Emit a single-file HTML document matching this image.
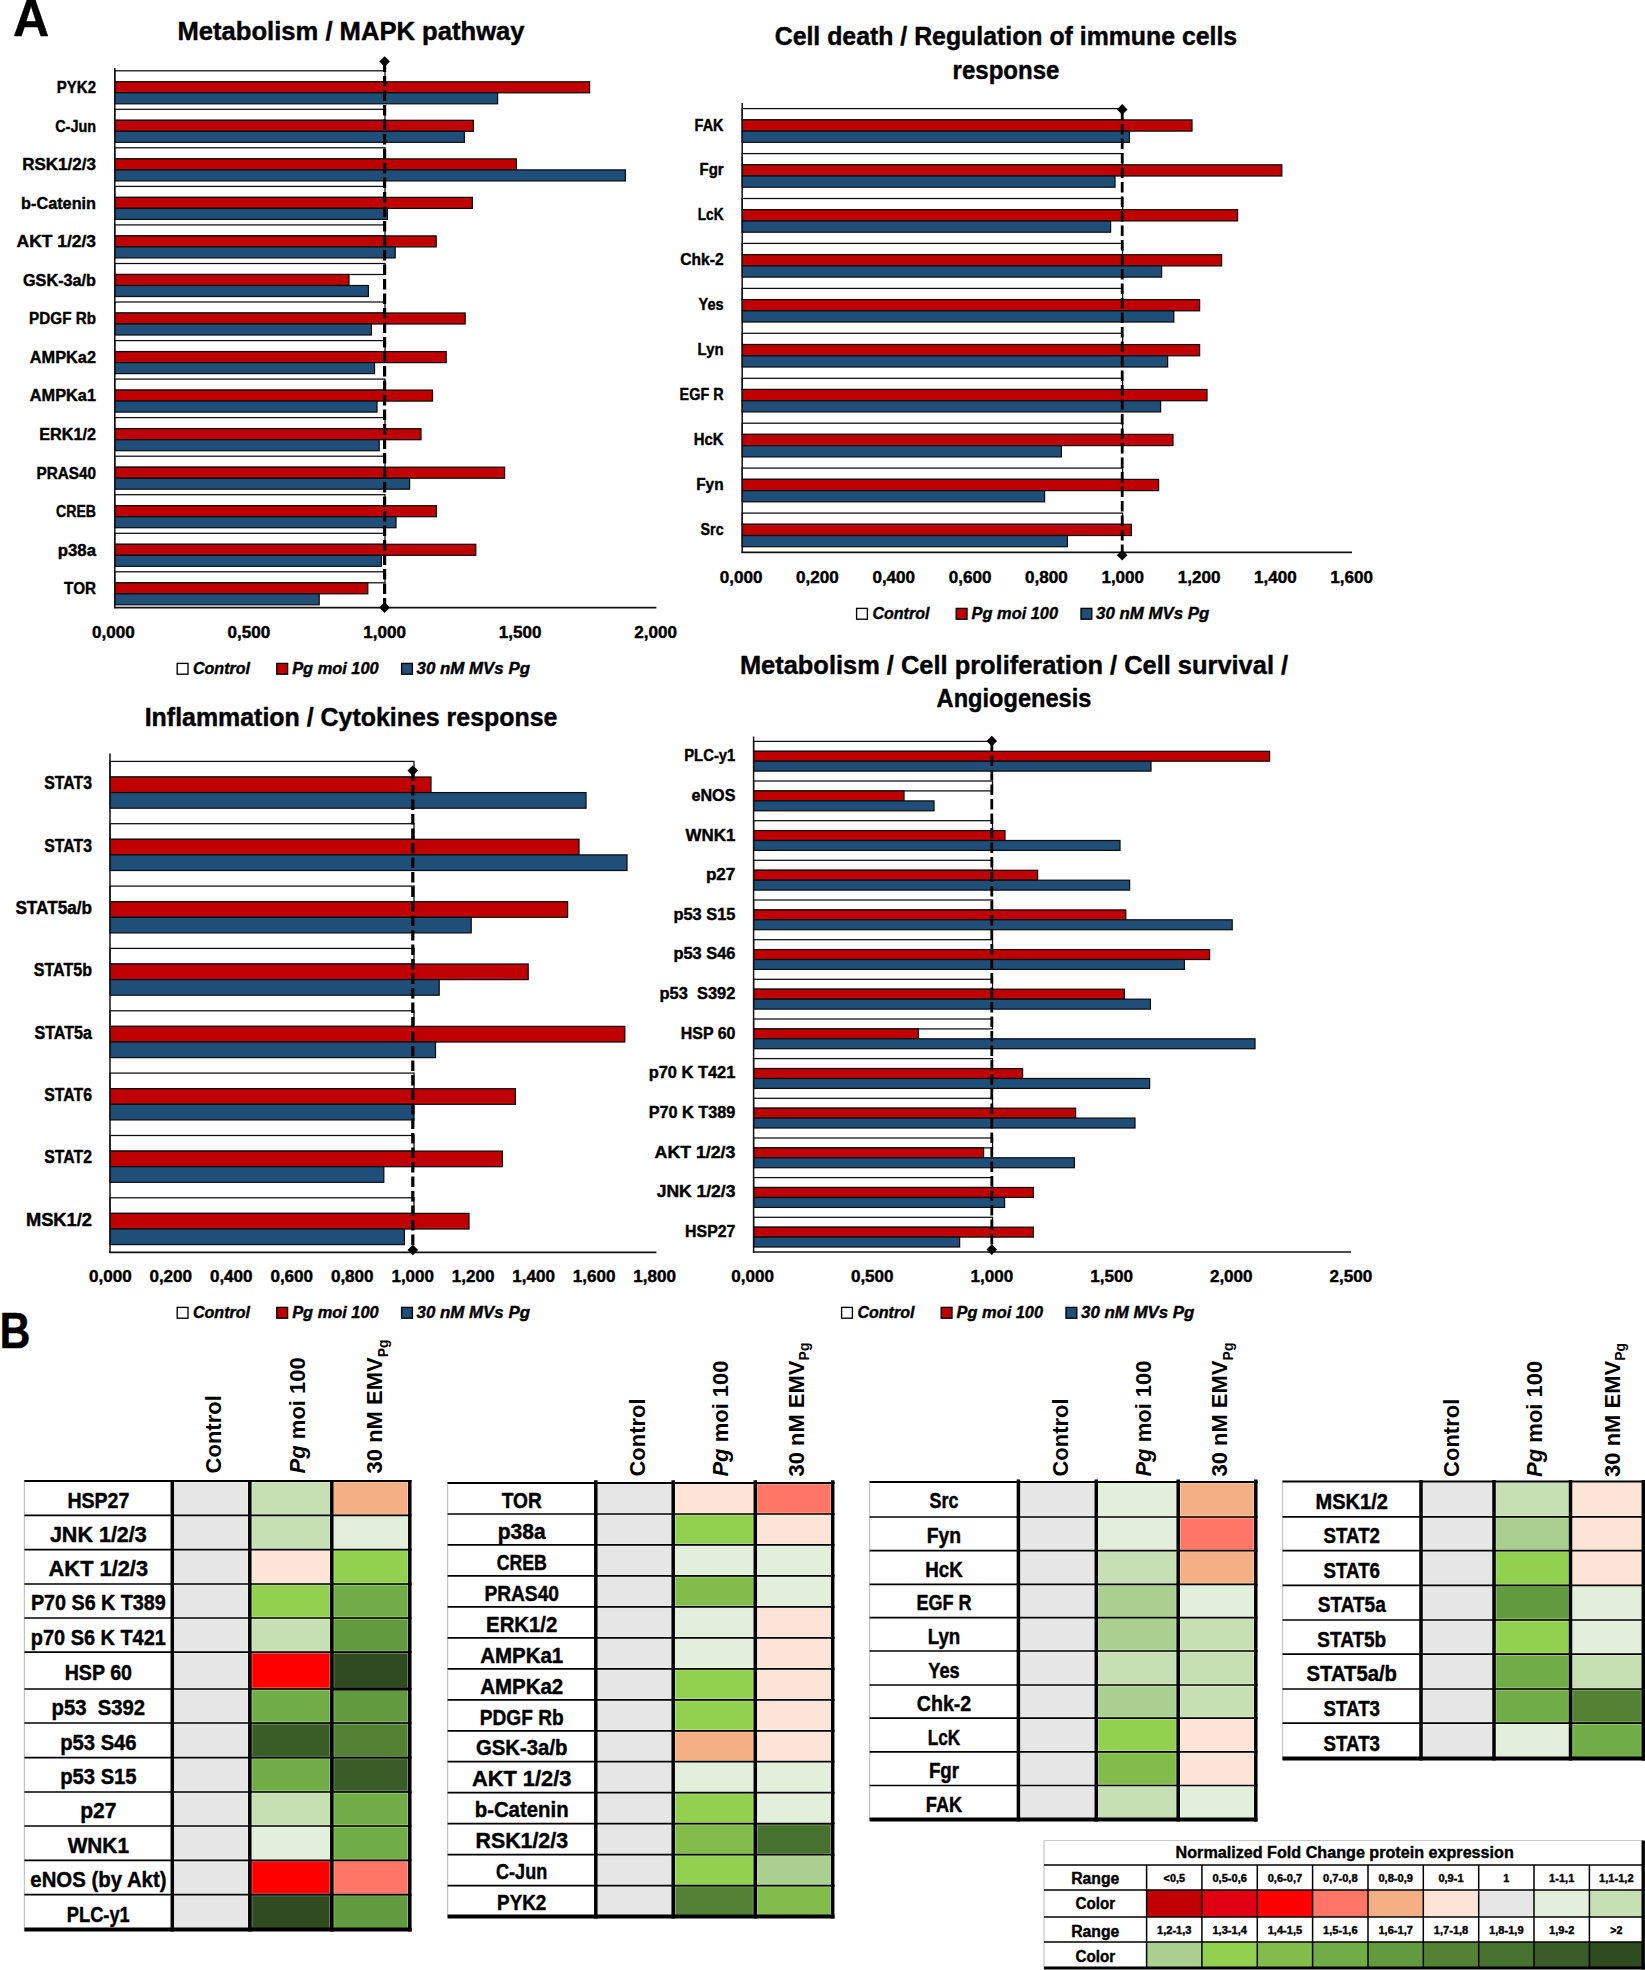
<!DOCTYPE html>
<html lang="en"><head><meta charset="utf-8"><title>Figure</title>
<style>
html,body{margin:0;padding:0;background:#fff}
body{width:1645px;height:1970px;overflow:hidden}
svg{display:block}
svg text{font-family:"Liberation Sans",sans-serif;font-weight:700;fill:#000}
svg text.c{stroke:#000;stroke-width:0.42px;stroke-linejoin:round}
</style></head>
<body>
<svg width="1645" height="1970" viewBox="0 0 1645 1970">
<rect x="0" y="0" width="1645" height="1970" fill="#fff"/>
<g>
<rect x="114.8" y="70.8" width="270.2" height="11.0" fill="#fff" stroke="#0d0d0d" stroke-width="1.25"/>
<rect x="114.8" y="81.8" width="474.8" height="11.0" fill="#C00000" stroke="#0d0d0d" stroke-width="1.25"/>
<rect x="114.8" y="92.8" width="382.8" height="11.0" fill="#1F4E79" stroke="#0d0d0d" stroke-width="1.25"/>
<text class="c" x="56.8" y="93.1" font-size="17.08" textLength="39.2" lengthAdjust="spacingAndGlyphs" xml:space="preserve">PYK2</text>
<rect x="114.8" y="109.3" width="270.2" height="11.0" fill="#fff" stroke="#0d0d0d" stroke-width="1.25"/>
<rect x="114.8" y="120.3" width="358.6" height="11.0" fill="#C00000" stroke="#0d0d0d" stroke-width="1.25"/>
<rect x="114.8" y="131.3" width="349.6" height="11.0" fill="#1F4E79" stroke="#0d0d0d" stroke-width="1.25"/>
<text class="c" x="55.2" y="131.6" font-size="17.08" textLength="40.8" lengthAdjust="spacingAndGlyphs" xml:space="preserve">C-Jun</text>
<rect x="114.8" y="147.8" width="270.2" height="11.0" fill="#fff" stroke="#0d0d0d" stroke-width="1.25"/>
<rect x="114.8" y="158.9" width="401.6" height="11.0" fill="#C00000" stroke="#0d0d0d" stroke-width="1.25"/>
<rect x="114.8" y="169.9" width="510.6" height="11.0" fill="#1F4E79" stroke="#0d0d0d" stroke-width="1.25"/>
<text class="c" x="22.2" y="170.2" font-size="17.08" textLength="73.8" lengthAdjust="spacingAndGlyphs" xml:space="preserve">RSK1/2/3</text>
<rect x="114.8" y="186.4" width="270.2" height="11.0" fill="#fff" stroke="#0d0d0d" stroke-width="1.25"/>
<rect x="114.8" y="197.4" width="357.6" height="11.0" fill="#C00000" stroke="#0d0d0d" stroke-width="1.25"/>
<rect x="114.8" y="208.4" width="272.6" height="11.0" fill="#1F4E79" stroke="#0d0d0d" stroke-width="1.25"/>
<text class="c" x="21.1" y="208.7" font-size="17.08" textLength="74.9" lengthAdjust="spacingAndGlyphs" xml:space="preserve">b-Catenin</text>
<rect x="114.8" y="224.9" width="270.2" height="11.0" fill="#fff" stroke="#0d0d0d" stroke-width="1.25"/>
<rect x="114.8" y="235.9" width="321.4" height="11.0" fill="#C00000" stroke="#0d0d0d" stroke-width="1.25"/>
<rect x="114.8" y="246.9" width="280.4" height="11.0" fill="#1F4E79" stroke="#0d0d0d" stroke-width="1.25"/>
<text class="c" x="16.6" y="247.2" font-size="17.08" textLength="79.4" lengthAdjust="spacingAndGlyphs" xml:space="preserve">AKT 1/2/3</text>
<rect x="114.8" y="263.5" width="270.2" height="11.0" fill="#fff" stroke="#0d0d0d" stroke-width="1.25"/>
<rect x="114.8" y="274.5" width="234.2" height="11.0" fill="#C00000" stroke="#0d0d0d" stroke-width="1.25"/>
<rect x="114.8" y="285.5" width="253.6" height="11.0" fill="#1F4E79" stroke="#0d0d0d" stroke-width="1.25"/>
<text class="c" x="23.0" y="285.8" font-size="17.08" textLength="73.0" lengthAdjust="spacingAndGlyphs" xml:space="preserve">GSK-3a/b</text>
<rect x="114.8" y="302.0" width="270.2" height="11.0" fill="#fff" stroke="#0d0d0d" stroke-width="1.25"/>
<rect x="114.8" y="313.0" width="350.4" height="11.0" fill="#C00000" stroke="#0d0d0d" stroke-width="1.25"/>
<rect x="114.8" y="324.0" width="256.6" height="11.0" fill="#1F4E79" stroke="#0d0d0d" stroke-width="1.25"/>
<text class="c" x="29.1" y="324.3" font-size="17.08" textLength="66.9" lengthAdjust="spacingAndGlyphs" xml:space="preserve">PDGF Rb</text>
<rect x="114.8" y="340.6" width="270.2" height="11.0" fill="#fff" stroke="#0d0d0d" stroke-width="1.25"/>
<rect x="114.8" y="351.6" width="331.4" height="11.0" fill="#C00000" stroke="#0d0d0d" stroke-width="1.25"/>
<rect x="114.8" y="362.6" width="259.7" height="11.0" fill="#1F4E79" stroke="#0d0d0d" stroke-width="1.25"/>
<text class="c" x="29.8" y="362.9" font-size="17.08" textLength="66.2" lengthAdjust="spacingAndGlyphs" xml:space="preserve">AMPKa2</text>
<rect x="114.8" y="379.1" width="270.2" height="11.0" fill="#fff" stroke="#0d0d0d" stroke-width="1.25"/>
<rect x="114.8" y="390.1" width="317.7" height="11.0" fill="#C00000" stroke="#0d0d0d" stroke-width="1.25"/>
<rect x="114.8" y="401.1" width="262.2" height="11.0" fill="#1F4E79" stroke="#0d0d0d" stroke-width="1.25"/>
<text class="c" x="29.8" y="401.4" font-size="17.08" textLength="66.2" lengthAdjust="spacingAndGlyphs" xml:space="preserve">AMPKa1</text>
<rect x="114.8" y="417.6" width="270.2" height="11.0" fill="#fff" stroke="#0d0d0d" stroke-width="1.25"/>
<rect x="114.8" y="428.7" width="306.2" height="11.0" fill="#C00000" stroke="#0d0d0d" stroke-width="1.25"/>
<rect x="114.8" y="439.7" width="264.4" height="11.0" fill="#1F4E79" stroke="#0d0d0d" stroke-width="1.25"/>
<text class="c" x="39.2" y="440.0" font-size="17.08" textLength="56.8" lengthAdjust="spacingAndGlyphs" xml:space="preserve">ERK1/2</text>
<rect x="114.8" y="456.2" width="270.2" height="11.0" fill="#fff" stroke="#0d0d0d" stroke-width="1.25"/>
<rect x="114.8" y="467.2" width="389.8" height="11.0" fill="#C00000" stroke="#0d0d0d" stroke-width="1.25"/>
<rect x="114.8" y="478.2" width="294.8" height="11.0" fill="#1F4E79" stroke="#0d0d0d" stroke-width="1.25"/>
<text class="c" x="36.5" y="478.5" font-size="17.08" textLength="59.5" lengthAdjust="spacingAndGlyphs" xml:space="preserve">PRAS40</text>
<rect x="114.8" y="494.7" width="270.2" height="11.0" fill="#fff" stroke="#0d0d0d" stroke-width="1.25"/>
<rect x="114.8" y="505.7" width="321.6" height="11.0" fill="#C00000" stroke="#0d0d0d" stroke-width="1.25"/>
<rect x="114.8" y="516.7" width="281.2" height="11.0" fill="#1F4E79" stroke="#0d0d0d" stroke-width="1.25"/>
<text class="c" x="56.0" y="517.0" font-size="17.08" textLength="40.0" lengthAdjust="spacingAndGlyphs" xml:space="preserve">CREB</text>
<rect x="114.8" y="533.3" width="270.2" height="11.0" fill="#fff" stroke="#0d0d0d" stroke-width="1.25"/>
<rect x="114.8" y="544.3" width="361.0" height="11.0" fill="#C00000" stroke="#0d0d0d" stroke-width="1.25"/>
<rect x="114.8" y="555.3" width="266.6" height="11.0" fill="#1F4E79" stroke="#0d0d0d" stroke-width="1.25"/>
<text class="c" x="57.8" y="555.6" font-size="17.08" textLength="38.2" lengthAdjust="spacingAndGlyphs" xml:space="preserve">p38a</text>
<rect x="114.8" y="571.8" width="270.2" height="11.0" fill="#fff" stroke="#0d0d0d" stroke-width="1.25"/>
<rect x="114.8" y="582.8" width="253.0" height="11.0" fill="#C00000" stroke="#0d0d0d" stroke-width="1.25"/>
<rect x="114.8" y="593.8" width="204.4" height="11.0" fill="#1F4E79" stroke="#0d0d0d" stroke-width="1.25"/>
<text class="c" x="64.1" y="594.1" font-size="17.08" textLength="31.9" lengthAdjust="spacingAndGlyphs" xml:space="preserve">TOR</text>
</g>
<line x1="114.8" y1="68.0" x2="114.8" y2="608.2" stroke="#111" stroke-width="1.5"/>
<line x1="114.1" y1="607.6" x2="656.4" y2="607.6" stroke="#111" stroke-width="1.6"/>
<text class="c" x="92.1" y="638.0" font-size="17.08" textLength="42.7" lengthAdjust="spacingAndGlyphs" xml:space="preserve">0,000</text>
<text class="c" x="227.6" y="638.0" font-size="17.08" textLength="42.7" lengthAdjust="spacingAndGlyphs" xml:space="preserve">0,500</text>
<text class="c" x="363.2" y="638.0" font-size="17.08" textLength="42.7" lengthAdjust="spacingAndGlyphs" xml:space="preserve">1,000</text>
<text class="c" x="498.7" y="638.0" font-size="17.08" textLength="42.7" lengthAdjust="spacingAndGlyphs" xml:space="preserve">1,500</text>
<text class="c" x="634.3" y="638.0" font-size="17.08" textLength="42.7" lengthAdjust="spacingAndGlyphs" xml:space="preserve">2,000</text>
<line x1="384.6" y1="61.6" x2="384.6" y2="607.6" stroke="#000" stroke-width="3.2" stroke-dasharray="10.5 4"/>
<path d="M384.6 56.3L389.9 61.6L384.6 66.9L379.3 61.6Z" fill="#000"/>
<path d="M384.6 602.3L389.9 607.6L384.6 612.9L379.3 607.6Z" fill="#000"/>
<text class="c" x="177.4" y="40.0" font-size="25.99" textLength="347.2" lengthAdjust="spacingAndGlyphs" xml:space="preserve">Metabolism / MAPK pathway</text>
<rect x="177.2" y="663.4" width="10.8" height="10.8" fill="#fff" stroke="#000" stroke-width="1.35"/>
<text class="c" x="193.0" y="674.0" font-size="17.39" font-style="italic" textLength="57.0" lengthAdjust="spacingAndGlyphs" xml:space="preserve">Control</text>
<rect x="276.8" y="663.4" width="10.8" height="10.8" fill="#C00000" stroke="#000" stroke-width="1.35"/>
<text class="c" x="292.2" y="674.0" font-size="17.39" font-style="italic" textLength="86.5" lengthAdjust="spacingAndGlyphs" xml:space="preserve">Pg moi 100</text>
<rect x="401.6" y="663.4" width="10.8" height="10.8" fill="#1F4E79" stroke="#000" stroke-width="1.35"/>
<text class="c" x="416.6" y="674.0" font-size="17.39" font-style="italic" textLength="113.4" lengthAdjust="spacingAndGlyphs" xml:space="preserve">30 nM MVs Pg</text>
<g>
<rect x="742.2" y="108.6" width="380.4" height="11.2" fill="#fff" stroke="#0d0d0d" stroke-width="1.25"/>
<rect x="742.2" y="119.9" width="449.8" height="11.2" fill="#C00000" stroke="#0d0d0d" stroke-width="1.25"/>
<rect x="742.2" y="131.1" width="387.2" height="11.2" fill="#1F4E79" stroke="#0d0d0d" stroke-width="1.25"/>
<text class="c" x="694.6" y="130.5" font-size="17.08" textLength="29.0" lengthAdjust="spacingAndGlyphs" xml:space="preserve">FAK</text>
<rect x="742.2" y="153.6" width="380.4" height="11.2" fill="#fff" stroke="#0d0d0d" stroke-width="1.25"/>
<rect x="742.2" y="164.8" width="539.6" height="11.2" fill="#C00000" stroke="#0d0d0d" stroke-width="1.25"/>
<rect x="742.2" y="176.0" width="372.8" height="11.2" fill="#1F4E79" stroke="#0d0d0d" stroke-width="1.25"/>
<text class="c" x="699.5" y="175.4" font-size="17.08" textLength="24.1" lengthAdjust="spacingAndGlyphs" xml:space="preserve">Fgr</text>
<rect x="742.2" y="198.5" width="380.4" height="11.2" fill="#fff" stroke="#0d0d0d" stroke-width="1.25"/>
<rect x="742.2" y="209.7" width="495.4" height="11.2" fill="#C00000" stroke="#0d0d0d" stroke-width="1.25"/>
<rect x="742.2" y="221.0" width="368.4" height="11.2" fill="#1F4E79" stroke="#0d0d0d" stroke-width="1.25"/>
<text class="c" x="697.7" y="220.3" font-size="17.08" textLength="25.9" lengthAdjust="spacingAndGlyphs" xml:space="preserve">LcK</text>
<rect x="742.2" y="243.4" width="380.4" height="11.2" fill="#fff" stroke="#0d0d0d" stroke-width="1.25"/>
<rect x="742.2" y="254.7" width="479.4" height="11.2" fill="#C00000" stroke="#0d0d0d" stroke-width="1.25"/>
<rect x="742.2" y="265.9" width="419.4" height="11.2" fill="#1F4E79" stroke="#0d0d0d" stroke-width="1.25"/>
<text class="c" x="680.2" y="265.3" font-size="17.08" textLength="43.4" lengthAdjust="spacingAndGlyphs" xml:space="preserve">Chk-2</text>
<rect x="742.2" y="288.4" width="380.4" height="11.2" fill="#fff" stroke="#0d0d0d" stroke-width="1.25"/>
<rect x="742.2" y="299.6" width="457.4" height="11.2" fill="#C00000" stroke="#0d0d0d" stroke-width="1.25"/>
<rect x="742.2" y="310.8" width="431.6" height="11.2" fill="#1F4E79" stroke="#0d0d0d" stroke-width="1.25"/>
<text class="c" x="698.5" y="310.2" font-size="17.08" textLength="25.1" lengthAdjust="spacingAndGlyphs" xml:space="preserve">Yes</text>
<rect x="742.2" y="333.3" width="380.4" height="11.2" fill="#fff" stroke="#0d0d0d" stroke-width="1.25"/>
<rect x="742.2" y="344.6" width="457.4" height="11.2" fill="#C00000" stroke="#0d0d0d" stroke-width="1.25"/>
<rect x="742.2" y="355.8" width="425.4" height="11.2" fill="#1F4E79" stroke="#0d0d0d" stroke-width="1.25"/>
<text class="c" x="697.6" y="355.2" font-size="17.08" textLength="26.0" lengthAdjust="spacingAndGlyphs" xml:space="preserve">Lyn</text>
<rect x="742.2" y="378.3" width="380.4" height="11.2" fill="#fff" stroke="#0d0d0d" stroke-width="1.25"/>
<rect x="742.2" y="389.5" width="464.8" height="11.2" fill="#C00000" stroke="#0d0d0d" stroke-width="1.25"/>
<rect x="742.2" y="400.7" width="418.4" height="11.2" fill="#1F4E79" stroke="#0d0d0d" stroke-width="1.25"/>
<text class="c" x="679.6" y="400.1" font-size="17.08" textLength="44.0" lengthAdjust="spacingAndGlyphs" xml:space="preserve">EGF R</text>
<rect x="742.2" y="423.2" width="380.4" height="11.2" fill="#fff" stroke="#0d0d0d" stroke-width="1.25"/>
<rect x="742.2" y="434.4" width="430.8" height="11.2" fill="#C00000" stroke="#0d0d0d" stroke-width="1.25"/>
<rect x="742.2" y="445.7" width="319.2" height="11.2" fill="#1F4E79" stroke="#0d0d0d" stroke-width="1.25"/>
<text class="c" x="693.8" y="445.0" font-size="17.08" textLength="29.8" lengthAdjust="spacingAndGlyphs" xml:space="preserve">HcK</text>
<rect x="742.2" y="468.1" width="380.4" height="11.2" fill="#fff" stroke="#0d0d0d" stroke-width="1.25"/>
<rect x="742.2" y="479.4" width="416.4" height="11.2" fill="#C00000" stroke="#0d0d0d" stroke-width="1.25"/>
<rect x="742.2" y="490.6" width="302.4" height="11.2" fill="#1F4E79" stroke="#0d0d0d" stroke-width="1.25"/>
<text class="c" x="696.2" y="490.0" font-size="17.08" textLength="27.4" lengthAdjust="spacingAndGlyphs" xml:space="preserve">Fyn</text>
<rect x="742.2" y="513.1" width="380.4" height="11.2" fill="#fff" stroke="#0d0d0d" stroke-width="1.25"/>
<rect x="742.2" y="524.3" width="389.2" height="11.2" fill="#C00000" stroke="#0d0d0d" stroke-width="1.25"/>
<rect x="742.2" y="535.5" width="325.2" height="11.2" fill="#1F4E79" stroke="#0d0d0d" stroke-width="1.25"/>
<text class="c" x="700.6" y="534.9" font-size="17.08" textLength="23.0" lengthAdjust="spacingAndGlyphs" xml:space="preserve">Src</text>
</g>
<line x1="742.2" y1="103.0" x2="742.2" y2="553.0" stroke="#111" stroke-width="1.5"/>
<line x1="741.5" y1="552.4" x2="1352.0" y2="552.4" stroke="#111" stroke-width="1.6"/>
<text class="c" x="719.8" y="583.0" font-size="17.08" textLength="42.7" lengthAdjust="spacingAndGlyphs" xml:space="preserve">0,000</text>
<text class="c" x="796.1" y="583.0" font-size="17.08" textLength="42.7" lengthAdjust="spacingAndGlyphs" xml:space="preserve">0,200</text>
<text class="c" x="872.4" y="583.0" font-size="17.08" textLength="42.7" lengthAdjust="spacingAndGlyphs" xml:space="preserve">0,400</text>
<text class="c" x="948.7" y="583.0" font-size="17.08" textLength="42.7" lengthAdjust="spacingAndGlyphs" xml:space="preserve">0,600</text>
<text class="c" x="1025.0" y="583.0" font-size="17.08" textLength="42.7" lengthAdjust="spacingAndGlyphs" xml:space="preserve">0,800</text>
<text class="c" x="1101.4" y="583.0" font-size="17.08" textLength="42.7" lengthAdjust="spacingAndGlyphs" xml:space="preserve">1,000</text>
<text class="c" x="1177.7" y="583.0" font-size="17.08" textLength="42.7" lengthAdjust="spacingAndGlyphs" xml:space="preserve">1,200</text>
<text class="c" x="1254.0" y="583.0" font-size="17.08" textLength="42.7" lengthAdjust="spacingAndGlyphs" xml:space="preserve">1,400</text>
<text class="c" x="1330.3" y="583.0" font-size="17.08" textLength="42.7" lengthAdjust="spacingAndGlyphs" xml:space="preserve">1,600</text>
<line x1="1122.2" y1="109.4" x2="1122.2" y2="555.2" stroke="#000" stroke-width="2.8" stroke-dasharray="10.5 4"/>
<path d="M1122.2 104.1L1127.5 109.4L1122.2 114.7L1116.9 109.4Z" fill="#000"/>
<path d="M1122.2 549.9L1127.5 555.2L1122.2 560.5L1116.9 555.2Z" fill="#000"/>
<text class="c" x="774.7" y="45.4" font-size="25.99" textLength="462.5" lengthAdjust="spacingAndGlyphs" xml:space="preserve">Cell death / Regulation of immune cells</text>
<text class="c" x="952.6" y="79.0" font-size="25.99" textLength="106.8" lengthAdjust="spacingAndGlyphs" xml:space="preserve">response</text>
<rect x="856.6" y="608.4" width="10.8" height="10.8" fill="#fff" stroke="#000" stroke-width="1.35"/>
<text class="c" x="872.4" y="619.0" font-size="17.39" font-style="italic" textLength="57.0" lengthAdjust="spacingAndGlyphs" xml:space="preserve">Control</text>
<rect x="956.2" y="608.4" width="10.8" height="10.8" fill="#C00000" stroke="#000" stroke-width="1.35"/>
<text class="c" x="971.6" y="619.0" font-size="17.39" font-style="italic" textLength="86.5" lengthAdjust="spacingAndGlyphs" xml:space="preserve">Pg moi 100</text>
<rect x="1081.0" y="608.4" width="10.8" height="10.8" fill="#1F4E79" stroke="#000" stroke-width="1.35"/>
<text class="c" x="1096.0" y="619.0" font-size="17.39" font-style="italic" textLength="113.4" lengthAdjust="spacingAndGlyphs" xml:space="preserve">30 nM MVs Pg</text>
<g>
<rect x="110.0" y="761.4" width="304.0" height="15.6" fill="#fff" stroke="#0d0d0d" stroke-width="1.25"/>
<rect x="110.0" y="777.0" width="321.0" height="15.6" fill="#C00000" stroke="#0d0d0d" stroke-width="1.25"/>
<rect x="110.0" y="792.6" width="476.0" height="15.6" fill="#1F4E79" stroke="#0d0d0d" stroke-width="1.25"/>
<text class="c" x="44.3" y="789.3" font-size="18.12" textLength="47.7" lengthAdjust="spacingAndGlyphs" xml:space="preserve">STAT3</text>
<rect x="110.0" y="823.7" width="304.0" height="15.6" fill="#fff" stroke="#0d0d0d" stroke-width="1.25"/>
<rect x="110.0" y="839.3" width="469.0" height="15.6" fill="#C00000" stroke="#0d0d0d" stroke-width="1.25"/>
<rect x="110.0" y="854.9" width="517.0" height="15.6" fill="#1F4E79" stroke="#0d0d0d" stroke-width="1.25"/>
<text class="c" x="44.3" y="851.6" font-size="18.12" textLength="47.7" lengthAdjust="spacingAndGlyphs" xml:space="preserve">STAT3</text>
<rect x="110.0" y="886.1" width="304.0" height="15.6" fill="#fff" stroke="#0d0d0d" stroke-width="1.25"/>
<rect x="110.0" y="901.7" width="457.6" height="15.6" fill="#C00000" stroke="#0d0d0d" stroke-width="1.25"/>
<rect x="110.0" y="917.3" width="361.2" height="15.6" fill="#1F4E79" stroke="#0d0d0d" stroke-width="1.25"/>
<text class="c" x="15.4" y="914.0" font-size="18.12" textLength="76.6" lengthAdjust="spacingAndGlyphs" xml:space="preserve">STAT5a/b</text>
<rect x="110.0" y="948.4" width="304.0" height="15.6" fill="#fff" stroke="#0d0d0d" stroke-width="1.25"/>
<rect x="110.0" y="964.0" width="418.2" height="15.6" fill="#C00000" stroke="#0d0d0d" stroke-width="1.25"/>
<rect x="110.0" y="979.6" width="329.2" height="15.6" fill="#1F4E79" stroke="#0d0d0d" stroke-width="1.25"/>
<text class="c" x="33.7" y="976.3" font-size="18.12" textLength="58.3" lengthAdjust="spacingAndGlyphs" xml:space="preserve">STAT5b</text>
<rect x="110.0" y="1010.8" width="304.0" height="15.6" fill="#fff" stroke="#0d0d0d" stroke-width="1.25"/>
<rect x="110.0" y="1026.4" width="514.8" height="15.6" fill="#C00000" stroke="#0d0d0d" stroke-width="1.25"/>
<rect x="110.0" y="1042.0" width="325.5" height="15.6" fill="#1F4E79" stroke="#0d0d0d" stroke-width="1.25"/>
<text class="c" x="34.5" y="1038.7" font-size="18.12" textLength="57.5" lengthAdjust="spacingAndGlyphs" xml:space="preserve">STAT5a</text>
<rect x="110.0" y="1073.1" width="304.0" height="15.6" fill="#fff" stroke="#0d0d0d" stroke-width="1.25"/>
<rect x="110.0" y="1088.7" width="405.4" height="15.6" fill="#C00000" stroke="#0d0d0d" stroke-width="1.25"/>
<rect x="110.0" y="1104.3" width="304.0" height="15.6" fill="#1F4E79" stroke="#0d0d0d" stroke-width="1.25"/>
<text class="c" x="44.3" y="1101.0" font-size="18.12" textLength="47.7" lengthAdjust="spacingAndGlyphs" xml:space="preserve">STAT6</text>
<rect x="110.0" y="1135.5" width="304.0" height="15.6" fill="#fff" stroke="#0d0d0d" stroke-width="1.25"/>
<rect x="110.0" y="1151.1" width="392.4" height="15.6" fill="#C00000" stroke="#0d0d0d" stroke-width="1.25"/>
<rect x="110.0" y="1166.7" width="273.8" height="15.6" fill="#1F4E79" stroke="#0d0d0d" stroke-width="1.25"/>
<text class="c" x="44.3" y="1163.4" font-size="18.12" textLength="47.7" lengthAdjust="spacingAndGlyphs" xml:space="preserve">STAT2</text>
<rect x="110.0" y="1197.8" width="304.0" height="15.6" fill="#fff" stroke="#0d0d0d" stroke-width="1.25"/>
<rect x="110.0" y="1213.4" width="359.0" height="15.6" fill="#C00000" stroke="#0d0d0d" stroke-width="1.25"/>
<rect x="110.0" y="1229.0" width="294.4" height="15.6" fill="#1F4E79" stroke="#0d0d0d" stroke-width="1.25"/>
<text class="c" x="25.9" y="1225.7" font-size="18.12" textLength="66.1" lengthAdjust="spacingAndGlyphs" xml:space="preserve">MSK1/2</text>
</g>
<line x1="110.0" y1="753.6" x2="110.0" y2="1253.0" stroke="#111" stroke-width="1.5"/>
<line x1="109.3" y1="1252.4" x2="656.4" y2="1252.4" stroke="#111" stroke-width="1.6"/>
<text class="c" x="89.0" y="1282.0" font-size="17.08" textLength="42.7" lengthAdjust="spacingAndGlyphs" xml:space="preserve">0,000</text>
<text class="c" x="149.4" y="1282.0" font-size="17.08" textLength="42.7" lengthAdjust="spacingAndGlyphs" xml:space="preserve">0,200</text>
<text class="c" x="209.9" y="1282.0" font-size="17.08" textLength="42.7" lengthAdjust="spacingAndGlyphs" xml:space="preserve">0,400</text>
<text class="c" x="270.4" y="1282.0" font-size="17.08" textLength="42.7" lengthAdjust="spacingAndGlyphs" xml:space="preserve">0,600</text>
<text class="c" x="330.9" y="1282.0" font-size="17.08" textLength="42.7" lengthAdjust="spacingAndGlyphs" xml:space="preserve">0,800</text>
<text class="c" x="391.4" y="1282.0" font-size="17.08" textLength="42.7" lengthAdjust="spacingAndGlyphs" xml:space="preserve">1,000</text>
<text class="c" x="451.8" y="1282.0" font-size="17.08" textLength="42.7" lengthAdjust="spacingAndGlyphs" xml:space="preserve">1,200</text>
<text class="c" x="512.3" y="1282.0" font-size="17.08" textLength="42.7" lengthAdjust="spacingAndGlyphs" xml:space="preserve">1,400</text>
<text class="c" x="572.8" y="1282.0" font-size="17.08" textLength="42.7" lengthAdjust="spacingAndGlyphs" xml:space="preserve">1,600</text>
<text class="c" x="633.3" y="1282.0" font-size="17.08" textLength="42.7" lengthAdjust="spacingAndGlyphs" xml:space="preserve">1,800</text>
<line x1="412.8" y1="770.6" x2="412.8" y2="1250.0" stroke="#000" stroke-width="3.2" stroke-dasharray="10.5 4"/>
<path d="M412.8 765.3L418.1 770.6L412.8 775.9L407.5 770.6Z" fill="#000"/>
<path d="M412.8 1244.7L418.1 1250.0L412.8 1255.3L407.5 1250.0Z" fill="#000"/>
<text class="c" x="144.7" y="725.6" font-size="25.99" textLength="412.7" lengthAdjust="spacingAndGlyphs" xml:space="preserve">Inflammation / Cytokines response</text>
<rect x="177.2" y="1307.4" width="10.8" height="10.8" fill="#fff" stroke="#000" stroke-width="1.35"/>
<text class="c" x="193.0" y="1318.0" font-size="17.39" font-style="italic" textLength="57.0" lengthAdjust="spacingAndGlyphs" xml:space="preserve">Control</text>
<rect x="276.8" y="1307.4" width="10.8" height="10.8" fill="#C00000" stroke="#000" stroke-width="1.35"/>
<text class="c" x="292.2" y="1318.0" font-size="17.39" font-style="italic" textLength="86.5" lengthAdjust="spacingAndGlyphs" xml:space="preserve">Pg moi 100</text>
<rect x="401.6" y="1307.4" width="10.8" height="10.8" fill="#1F4E79" stroke="#000" stroke-width="1.35"/>
<text class="c" x="416.6" y="1318.0" font-size="17.39" font-style="italic" textLength="113.4" lengthAdjust="spacingAndGlyphs" xml:space="preserve">30 nM MVs Pg</text>
<g>
<rect x="753.6" y="741.4" width="238.9" height="9.9" fill="#fff" stroke="#0d0d0d" stroke-width="1.25"/>
<rect x="753.6" y="751.3" width="516.0" height="9.9" fill="#C00000" stroke="#0d0d0d" stroke-width="1.25"/>
<rect x="753.6" y="761.2" width="397.4" height="9.9" fill="#1F4E79" stroke="#0d0d0d" stroke-width="1.25"/>
<text class="c" x="684.2" y="761.1" font-size="17.39" textLength="51.2" lengthAdjust="spacingAndGlyphs" xml:space="preserve">PLC-y1</text>
<rect x="753.6" y="781.0" width="238.9" height="9.9" fill="#fff" stroke="#0d0d0d" stroke-width="1.25"/>
<rect x="753.6" y="790.9" width="150.4" height="9.9" fill="#C00000" stroke="#0d0d0d" stroke-width="1.25"/>
<rect x="753.6" y="800.9" width="180.4" height="9.9" fill="#1F4E79" stroke="#0d0d0d" stroke-width="1.25"/>
<text class="c" x="691.5" y="800.8" font-size="17.39" textLength="43.9" lengthAdjust="spacingAndGlyphs" xml:space="preserve">eNOS</text>
<rect x="753.6" y="820.7" width="238.9" height="9.9" fill="#fff" stroke="#0d0d0d" stroke-width="1.25"/>
<rect x="753.6" y="830.6" width="251.4" height="9.9" fill="#C00000" stroke="#0d0d0d" stroke-width="1.25"/>
<rect x="753.6" y="840.5" width="366.4" height="9.9" fill="#1F4E79" stroke="#0d0d0d" stroke-width="1.25"/>
<text class="c" x="685.6" y="840.5" font-size="17.39" textLength="49.8" lengthAdjust="spacingAndGlyphs" xml:space="preserve">WNK1</text>
<rect x="753.6" y="860.3" width="238.9" height="9.9" fill="#fff" stroke="#0d0d0d" stroke-width="1.25"/>
<rect x="753.6" y="870.3" width="284.0" height="9.9" fill="#C00000" stroke="#0d0d0d" stroke-width="1.25"/>
<rect x="753.6" y="880.2" width="376.0" height="9.9" fill="#1F4E79" stroke="#0d0d0d" stroke-width="1.25"/>
<text class="c" x="705.9" y="880.1" font-size="17.39" textLength="29.5" lengthAdjust="spacingAndGlyphs" xml:space="preserve">p27</text>
<rect x="753.6" y="900.0" width="238.9" height="9.9" fill="#fff" stroke="#0d0d0d" stroke-width="1.25"/>
<rect x="753.6" y="909.9" width="372.2" height="9.9" fill="#C00000" stroke="#0d0d0d" stroke-width="1.25"/>
<rect x="753.6" y="919.8" width="478.6" height="9.9" fill="#1F4E79" stroke="#0d0d0d" stroke-width="1.25"/>
<text class="c" x="673.4" y="919.8" font-size="17.39" textLength="62.0" lengthAdjust="spacingAndGlyphs" xml:space="preserve">p53 S15</text>
<rect x="753.6" y="939.7" width="238.9" height="9.9" fill="#fff" stroke="#0d0d0d" stroke-width="1.25"/>
<rect x="753.6" y="949.6" width="456.0" height="9.9" fill="#C00000" stroke="#0d0d0d" stroke-width="1.25"/>
<rect x="753.6" y="959.5" width="430.8" height="9.9" fill="#1F4E79" stroke="#0d0d0d" stroke-width="1.25"/>
<text class="c" x="673.4" y="959.4" font-size="17.39" textLength="62.0" lengthAdjust="spacingAndGlyphs" xml:space="preserve">p53 S46</text>
<rect x="753.6" y="979.3" width="238.9" height="9.9" fill="#fff" stroke="#0d0d0d" stroke-width="1.25"/>
<rect x="753.6" y="989.2" width="370.8" height="9.9" fill="#C00000" stroke="#0d0d0d" stroke-width="1.25"/>
<rect x="753.6" y="999.2" width="396.8" height="9.9" fill="#1F4E79" stroke="#0d0d0d" stroke-width="1.25"/>
<text class="c" x="659.5" y="999.1" font-size="17.39" textLength="75.9" lengthAdjust="spacingAndGlyphs" xml:space="preserve">p53  S392</text>
<rect x="753.6" y="1019.0" width="238.9" height="9.9" fill="#fff" stroke="#0d0d0d" stroke-width="1.25"/>
<rect x="753.6" y="1028.9" width="164.8" height="9.9" fill="#C00000" stroke="#0d0d0d" stroke-width="1.25"/>
<rect x="753.6" y="1038.8" width="501.4" height="9.9" fill="#1F4E79" stroke="#0d0d0d" stroke-width="1.25"/>
<text class="c" x="680.8" y="1038.8" font-size="17.39" textLength="54.6" lengthAdjust="spacingAndGlyphs" xml:space="preserve">HSP 60</text>
<rect x="753.6" y="1058.6" width="238.9" height="9.9" fill="#fff" stroke="#0d0d0d" stroke-width="1.25"/>
<rect x="753.6" y="1068.6" width="269.0" height="9.9" fill="#C00000" stroke="#0d0d0d" stroke-width="1.25"/>
<rect x="753.6" y="1078.5" width="396.0" height="9.9" fill="#1F4E79" stroke="#0d0d0d" stroke-width="1.25"/>
<text class="c" x="648.7" y="1078.4" font-size="17.39" textLength="86.7" lengthAdjust="spacingAndGlyphs" xml:space="preserve">p70 K T421</text>
<rect x="753.6" y="1098.3" width="238.9" height="9.9" fill="#fff" stroke="#0d0d0d" stroke-width="1.25"/>
<rect x="753.6" y="1108.2" width="322.0" height="9.9" fill="#C00000" stroke="#0d0d0d" stroke-width="1.25"/>
<rect x="753.6" y="1118.1" width="381.4" height="9.9" fill="#1F4E79" stroke="#0d0d0d" stroke-width="1.25"/>
<text class="c" x="648.7" y="1118.1" font-size="17.39" textLength="86.7" lengthAdjust="spacingAndGlyphs" xml:space="preserve">P70 K T389</text>
<rect x="753.6" y="1138.0" width="238.9" height="9.9" fill="#fff" stroke="#0d0d0d" stroke-width="1.25"/>
<rect x="753.6" y="1147.9" width="230.0" height="9.9" fill="#C00000" stroke="#0d0d0d" stroke-width="1.25"/>
<rect x="753.6" y="1157.8" width="320.8" height="9.9" fill="#1F4E79" stroke="#0d0d0d" stroke-width="1.25"/>
<text class="c" x="654.6" y="1157.7" font-size="17.39" textLength="80.8" lengthAdjust="spacingAndGlyphs" xml:space="preserve">AKT 1/2/3</text>
<rect x="753.6" y="1177.6" width="238.9" height="9.9" fill="#fff" stroke="#0d0d0d" stroke-width="1.25"/>
<rect x="753.6" y="1187.5" width="279.8" height="9.9" fill="#C00000" stroke="#0d0d0d" stroke-width="1.25"/>
<rect x="753.6" y="1197.5" width="251.0" height="9.9" fill="#1F4E79" stroke="#0d0d0d" stroke-width="1.25"/>
<text class="c" x="656.7" y="1197.4" font-size="17.39" textLength="78.7" lengthAdjust="spacingAndGlyphs" xml:space="preserve">JNK 1/2/3</text>
<rect x="753.6" y="1217.3" width="238.9" height="9.9" fill="#fff" stroke="#0d0d0d" stroke-width="1.25"/>
<rect x="753.6" y="1227.2" width="279.8" height="9.9" fill="#C00000" stroke="#0d0d0d" stroke-width="1.25"/>
<rect x="753.6" y="1237.1" width="206.0" height="9.9" fill="#1F4E79" stroke="#0d0d0d" stroke-width="1.25"/>
<text class="c" x="685.1" y="1237.1" font-size="17.39" textLength="50.3" lengthAdjust="spacingAndGlyphs" xml:space="preserve">HSP27</text>
</g>
<line x1="753.6" y1="736.4" x2="753.6" y2="1252.6" stroke="#111" stroke-width="1.5"/>
<line x1="752.9" y1="1252.0" x2="1351.0" y2="1252.0" stroke="#111" stroke-width="1.6"/>
<text class="c" x="731.3" y="1282.0" font-size="17.08" textLength="42.7" lengthAdjust="spacingAndGlyphs" xml:space="preserve">0,000</text>
<text class="c" x="850.9" y="1282.0" font-size="17.08" textLength="42.7" lengthAdjust="spacingAndGlyphs" xml:space="preserve">0,500</text>
<text class="c" x="970.6" y="1282.0" font-size="17.08" textLength="42.7" lengthAdjust="spacingAndGlyphs" xml:space="preserve">1,000</text>
<text class="c" x="1090.2" y="1282.0" font-size="17.08" textLength="42.7" lengthAdjust="spacingAndGlyphs" xml:space="preserve">1,500</text>
<text class="c" x="1209.9" y="1282.0" font-size="17.08" textLength="42.7" lengthAdjust="spacingAndGlyphs" xml:space="preserve">2,000</text>
<text class="c" x="1329.5" y="1282.0" font-size="17.08" textLength="42.7" lengthAdjust="spacingAndGlyphs" xml:space="preserve">2,500</text>
<line x1="991.8" y1="741.0" x2="991.8" y2="1249.6" stroke="#000" stroke-width="2.8" stroke-dasharray="10.5 4"/>
<path d="M991.8 735.7L997.1 741.0L991.8 746.3L986.5 741.0Z" fill="#000"/>
<path d="M991.8 1244.3L997.1 1249.6L991.8 1254.9L986.5 1249.6Z" fill="#000"/>
<text class="c" x="739.9" y="674.0" font-size="25.99" textLength="548.2" lengthAdjust="spacingAndGlyphs" xml:space="preserve">Metabolism / Cell proliferation / Cell survival /</text>
<text class="c" x="936.6" y="707.0" font-size="25.99" textLength="154.8" lengthAdjust="spacingAndGlyphs" xml:space="preserve">Angiogenesis</text>
<rect x="841.6" y="1307.4" width="10.8" height="10.8" fill="#fff" stroke="#000" stroke-width="1.35"/>
<text class="c" x="857.4" y="1318.0" font-size="17.39" font-style="italic" textLength="57.0" lengthAdjust="spacingAndGlyphs" xml:space="preserve">Control</text>
<rect x="941.2" y="1307.4" width="10.8" height="10.8" fill="#C00000" stroke="#000" stroke-width="1.35"/>
<text class="c" x="956.6" y="1318.0" font-size="17.39" font-style="italic" textLength="86.5" lengthAdjust="spacingAndGlyphs" xml:space="preserve">Pg moi 100</text>
<rect x="1066.0" y="1307.4" width="10.8" height="10.8" fill="#1F4E79" stroke="#000" stroke-width="1.35"/>
<text class="c" x="1081.0" y="1318.0" font-size="17.39" font-style="italic" textLength="113.4" lengthAdjust="spacingAndGlyphs" xml:space="preserve">30 nM MVs Pg</text>
<text class="c" x="13.0" y="35.6" font-size="51.24" textLength="36.2" lengthAdjust="spacingAndGlyphs" xml:space="preserve">A</text>
<text class="c" x="-0.5" y="1347.6" font-size="49.41" textLength="31.0" lengthAdjust="spacingAndGlyphs" xml:space="preserve">B</text>
<rect x="172.3" y="1481.0" width="77.5" height="34.4" fill="#E6E6E6"/>
<rect x="249.8" y="1481.0" width="82.0" height="34.4" fill="#C6E0B4"/>
<rect x="331.8" y="1481.0" width="78.0" height="34.4" fill="#F4B084"/>
<rect x="174.5" y="1482.2" width="73.2" height="32.0" fill="none" stroke="#fff" stroke-opacity="0.35" stroke-width="0.9"/>
<rect x="252.0" y="1482.2" width="77.7" height="32.0" fill="none" stroke="#fff" stroke-opacity="0.35" stroke-width="0.9"/>
<rect x="333.9" y="1482.2" width="73.7" height="32.0" fill="none" stroke="#fff" stroke-opacity="0.35" stroke-width="0.9"/>
<text class="c" x="67.4" y="1507.8" font-size="21.41" textLength="62.0" lengthAdjust="spacingAndGlyphs" xml:space="preserve">HSP27</text>
<rect x="172.3" y="1515.4" width="77.5" height="34.2" fill="#E6E6E6"/>
<rect x="249.8" y="1515.4" width="82.0" height="34.2" fill="#C6E0B4"/>
<rect x="331.8" y="1515.4" width="78.0" height="34.2" fill="#E2EFDA"/>
<rect x="174.5" y="1516.6" width="73.2" height="31.8" fill="none" stroke="#fff" stroke-opacity="0.35" stroke-width="0.9"/>
<rect x="252.0" y="1516.6" width="77.7" height="31.8" fill="none" stroke="#fff" stroke-opacity="0.35" stroke-width="0.9"/>
<rect x="333.9" y="1516.6" width="73.7" height="31.8" fill="none" stroke="#fff" stroke-opacity="0.35" stroke-width="0.9"/>
<text class="c" x="49.9" y="1542.0" font-size="21.41" textLength="96.9" lengthAdjust="spacingAndGlyphs" xml:space="preserve">JNK 1/2/3</text>
<rect x="172.3" y="1549.6" width="77.5" height="34.4" fill="#E6E6E6"/>
<rect x="249.8" y="1549.6" width="82.0" height="34.4" fill="#FCE4D6"/>
<rect x="331.8" y="1549.6" width="78.0" height="34.4" fill="#92D050"/>
<rect x="174.5" y="1550.8" width="73.2" height="32.0" fill="none" stroke="#fff" stroke-opacity="0.35" stroke-width="0.9"/>
<rect x="252.0" y="1550.8" width="77.7" height="32.0" fill="none" stroke="#fff" stroke-opacity="0.35" stroke-width="0.9"/>
<rect x="333.9" y="1550.8" width="73.7" height="32.0" fill="none" stroke="#fff" stroke-opacity="0.35" stroke-width="0.9"/>
<text class="c" x="48.6" y="1576.4" font-size="21.41" textLength="99.5" lengthAdjust="spacingAndGlyphs" xml:space="preserve">AKT 1/2/3</text>
<rect x="172.3" y="1584.0" width="77.5" height="34.0" fill="#E6E6E6"/>
<rect x="249.8" y="1584.0" width="82.0" height="34.0" fill="#92D050"/>
<rect x="331.8" y="1584.0" width="78.0" height="34.0" fill="#70AD47"/>
<rect x="174.5" y="1585.2" width="73.2" height="31.6" fill="none" stroke="#fff" stroke-opacity="0.35" stroke-width="0.9"/>
<rect x="252.0" y="1585.2" width="77.7" height="31.6" fill="none" stroke="#fff" stroke-opacity="0.35" stroke-width="0.9"/>
<rect x="333.9" y="1585.2" width="73.7" height="31.6" fill="none" stroke="#fff" stroke-opacity="0.35" stroke-width="0.9"/>
<text class="c" x="30.9" y="1610.4" font-size="21.41" textLength="134.9" lengthAdjust="spacingAndGlyphs" xml:space="preserve">P70 S6 K T389</text>
<rect x="172.3" y="1618.0" width="77.5" height="34.2" fill="#E6E6E6"/>
<rect x="249.8" y="1618.0" width="82.0" height="34.2" fill="#C6E0B4"/>
<rect x="331.8" y="1618.0" width="78.0" height="34.2" fill="#629A3F"/>
<rect x="174.5" y="1619.2" width="73.2" height="31.8" fill="none" stroke="#fff" stroke-opacity="0.35" stroke-width="0.9"/>
<rect x="252.0" y="1619.2" width="77.7" height="31.8" fill="none" stroke="#fff" stroke-opacity="0.35" stroke-width="0.9"/>
<rect x="333.9" y="1619.2" width="73.7" height="31.8" fill="none" stroke="#fff" stroke-opacity="0.35" stroke-width="0.9"/>
<text class="c" x="30.8" y="1644.6" font-size="21.41" textLength="135.0" lengthAdjust="spacingAndGlyphs" xml:space="preserve">p70 S6 K T421</text>
<rect x="172.3" y="1652.2" width="77.5" height="36.8" fill="#E6E6E6"/>
<rect x="249.8" y="1652.2" width="82.0" height="36.8" fill="#FF0000"/>
<rect x="331.8" y="1652.2" width="78.0" height="36.8" fill="#2F4B1F"/>
<rect x="174.5" y="1653.4" width="73.2" height="34.4" fill="none" stroke="#fff" stroke-opacity="0.35" stroke-width="0.9"/>
<rect x="252.0" y="1653.4" width="77.7" height="34.4" fill="none" stroke="#fff" stroke-opacity="0.35" stroke-width="0.9"/>
<rect x="333.9" y="1653.4" width="73.7" height="34.4" fill="none" stroke="#fff" stroke-opacity="0.35" stroke-width="0.9"/>
<text class="c" x="64.7" y="1680.0" font-size="21.41" textLength="67.3" lengthAdjust="spacingAndGlyphs" xml:space="preserve">HSP 60</text>
<rect x="172.3" y="1689.0" width="77.5" height="34.0" fill="#E6E6E6"/>
<rect x="249.8" y="1689.0" width="82.0" height="34.0" fill="#70AD47"/>
<rect x="331.8" y="1689.0" width="78.0" height="34.0" fill="#629A3F"/>
<rect x="174.5" y="1690.2" width="73.2" height="31.6" fill="none" stroke="#fff" stroke-opacity="0.35" stroke-width="0.9"/>
<rect x="252.0" y="1690.2" width="77.7" height="31.6" fill="none" stroke="#fff" stroke-opacity="0.35" stroke-width="0.9"/>
<rect x="333.9" y="1690.2" width="73.7" height="31.6" fill="none" stroke="#fff" stroke-opacity="0.35" stroke-width="0.9"/>
<text class="c" x="51.6" y="1715.4" font-size="21.41" textLength="93.5" lengthAdjust="spacingAndGlyphs" xml:space="preserve">p53  S392</text>
<rect x="172.3" y="1723.0" width="77.5" height="34.6" fill="#E6E6E6"/>
<rect x="249.8" y="1723.0" width="82.0" height="34.6" fill="#3A5C27"/>
<rect x="331.8" y="1723.0" width="78.0" height="34.6" fill="#548235"/>
<rect x="174.5" y="1724.2" width="73.2" height="32.2" fill="none" stroke="#fff" stroke-opacity="0.35" stroke-width="0.9"/>
<rect x="252.0" y="1724.2" width="77.7" height="32.2" fill="none" stroke="#fff" stroke-opacity="0.35" stroke-width="0.9"/>
<rect x="333.9" y="1724.2" width="73.7" height="32.2" fill="none" stroke="#fff" stroke-opacity="0.35" stroke-width="0.9"/>
<text class="c" x="60.2" y="1750.0" font-size="21.41" textLength="76.4" lengthAdjust="spacingAndGlyphs" xml:space="preserve">p53 S46</text>
<rect x="172.3" y="1757.6" width="77.5" height="34.4" fill="#E6E6E6"/>
<rect x="249.8" y="1757.6" width="82.0" height="34.4" fill="#70AD47"/>
<rect x="331.8" y="1757.6" width="78.0" height="34.4" fill="#3A5C27"/>
<rect x="174.5" y="1758.8" width="73.2" height="32.0" fill="none" stroke="#fff" stroke-opacity="0.35" stroke-width="0.9"/>
<rect x="252.0" y="1758.8" width="77.7" height="32.0" fill="none" stroke="#fff" stroke-opacity="0.35" stroke-width="0.9"/>
<rect x="333.9" y="1758.8" width="73.7" height="32.0" fill="none" stroke="#fff" stroke-opacity="0.35" stroke-width="0.9"/>
<text class="c" x="60.2" y="1784.4" font-size="21.41" textLength="76.4" lengthAdjust="spacingAndGlyphs" xml:space="preserve">p53 S15</text>
<rect x="172.3" y="1792.0" width="77.5" height="34.0" fill="#E6E6E6"/>
<rect x="249.8" y="1792.0" width="82.0" height="34.0" fill="#C6E0B4"/>
<rect x="331.8" y="1792.0" width="78.0" height="34.0" fill="#70AD47"/>
<rect x="174.5" y="1793.2" width="73.2" height="31.6" fill="none" stroke="#fff" stroke-opacity="0.35" stroke-width="0.9"/>
<rect x="252.0" y="1793.2" width="77.7" height="31.6" fill="none" stroke="#fff" stroke-opacity="0.35" stroke-width="0.9"/>
<rect x="333.9" y="1793.2" width="73.7" height="31.6" fill="none" stroke="#fff" stroke-opacity="0.35" stroke-width="0.9"/>
<text class="c" x="80.2" y="1818.4" font-size="21.41" textLength="36.3" lengthAdjust="spacingAndGlyphs" xml:space="preserve">p27</text>
<rect x="172.3" y="1826.0" width="77.5" height="34.4" fill="#E6E6E6"/>
<rect x="249.8" y="1826.0" width="82.0" height="34.4" fill="#E2EFDA"/>
<rect x="331.8" y="1826.0" width="78.0" height="34.4" fill="#70AD47"/>
<rect x="174.5" y="1827.2" width="73.2" height="32.0" fill="none" stroke="#fff" stroke-opacity="0.35" stroke-width="0.9"/>
<rect x="252.0" y="1827.2" width="77.7" height="32.0" fill="none" stroke="#fff" stroke-opacity="0.35" stroke-width="0.9"/>
<rect x="333.9" y="1827.2" width="73.7" height="32.0" fill="none" stroke="#fff" stroke-opacity="0.35" stroke-width="0.9"/>
<text class="c" x="67.7" y="1852.8" font-size="21.41" textLength="61.3" lengthAdjust="spacingAndGlyphs" xml:space="preserve">WNK1</text>
<rect x="172.3" y="1860.4" width="77.5" height="34.2" fill="#E6E6E6"/>
<rect x="249.8" y="1860.4" width="82.0" height="34.2" fill="#FF0000"/>
<rect x="331.8" y="1860.4" width="78.0" height="34.2" fill="#FF7566"/>
<rect x="174.5" y="1861.6" width="73.2" height="31.8" fill="none" stroke="#fff" stroke-opacity="0.35" stroke-width="0.9"/>
<rect x="252.0" y="1861.6" width="77.7" height="31.8" fill="none" stroke="#fff" stroke-opacity="0.35" stroke-width="0.9"/>
<rect x="333.9" y="1861.6" width="73.7" height="31.8" fill="none" stroke="#fff" stroke-opacity="0.35" stroke-width="0.9"/>
<text class="c" x="30.3" y="1887.0" font-size="21.41" textLength="136.2" lengthAdjust="spacingAndGlyphs" xml:space="preserve">eNOS (by Akt)</text>
<rect x="172.3" y="1894.6" width="77.5" height="35.0" fill="#E6E6E6"/>
<rect x="249.8" y="1894.6" width="82.0" height="35.0" fill="#2F4B1F"/>
<rect x="331.8" y="1894.6" width="78.0" height="35.0" fill="#629A3F"/>
<rect x="174.5" y="1895.8" width="73.2" height="32.6" fill="none" stroke="#fff" stroke-opacity="0.35" stroke-width="0.9"/>
<rect x="252.0" y="1895.8" width="77.7" height="32.6" fill="none" stroke="#fff" stroke-opacity="0.35" stroke-width="0.9"/>
<rect x="333.9" y="1895.8" width="73.7" height="32.6" fill="none" stroke="#fff" stroke-opacity="0.35" stroke-width="0.9"/>
<text class="c" x="66.8" y="1922.0" font-size="21.41" textLength="63.0" lengthAdjust="spacingAndGlyphs" xml:space="preserve">PLC-y1</text>
<line x1="24.4" y1="1480.0" x2="24.4" y2="1931.1" stroke="#c4c4c4" stroke-width="1.2"/>
<line x1="24.4" y1="1481.0" x2="411.6" y2="1481.0" stroke="#000" stroke-width="2.0"/>
<line x1="24.4" y1="1515.4" x2="411.6" y2="1515.4" stroke="#000" stroke-width="1.7"/>
<line x1="24.4" y1="1549.6" x2="411.6" y2="1549.6" stroke="#000" stroke-width="1.7"/>
<line x1="24.4" y1="1584.0" x2="411.6" y2="1584.0" stroke="#000" stroke-width="1.7"/>
<line x1="24.4" y1="1618.0" x2="411.6" y2="1618.0" stroke="#000" stroke-width="1.7"/>
<line x1="24.4" y1="1652.2" x2="411.6" y2="1652.2" stroke="#000" stroke-width="1.7"/>
<line x1="24.4" y1="1689.0" x2="411.6" y2="1689.0" stroke="#000" stroke-width="1.7"/>
<line x1="24.4" y1="1723.0" x2="411.6" y2="1723.0" stroke="#000" stroke-width="1.7"/>
<line x1="24.4" y1="1757.6" x2="411.6" y2="1757.6" stroke="#000" stroke-width="1.7"/>
<line x1="24.4" y1="1792.0" x2="411.6" y2="1792.0" stroke="#000" stroke-width="1.7"/>
<line x1="24.4" y1="1826.0" x2="411.6" y2="1826.0" stroke="#000" stroke-width="1.7"/>
<line x1="24.4" y1="1860.4" x2="411.6" y2="1860.4" stroke="#000" stroke-width="1.7"/>
<line x1="24.4" y1="1894.6" x2="411.6" y2="1894.6" stroke="#000" stroke-width="1.7"/>
<line x1="24.4" y1="1929.6" x2="411.6" y2="1929.6" stroke="#000" stroke-width="4.0"/>
<line x1="172.3" y1="1480.0" x2="172.3" y2="1931.6" stroke="#000" stroke-width="3.5"/>
<line x1="249.8" y1="1480.0" x2="249.8" y2="1931.6" stroke="#000" stroke-width="3.5"/>
<line x1="331.8" y1="1480.0" x2="331.8" y2="1931.6" stroke="#000" stroke-width="3.5"/>
<line x1="409.8" y1="1480.0" x2="409.8" y2="1931.6" stroke="#000" stroke-width="3.5"/>
<text transform="translate(221.0 1473.4) rotate(-90)" font-size="22.0">Control</text>
<text transform="translate(305.4 1473.4) rotate(-90)" font-size="22.0"><tspan font-style="italic">Pg</tspan> moi 100</text>
<text transform="translate(382.0 1473.4) rotate(-90)" font-size="22.0">30 nM EMV<tspan font-size="14" dy="5.5">Pg</tspan></text>
<line x1="331.8" y1="1689.0" x2="409.8" y2="1689.0" stroke="#000" stroke-width="3.0"/>
<rect x="595.8" y="1483.0" width="77.4" height="31.0" fill="#E6E6E6"/>
<rect x="673.2" y="1483.0" width="82.1" height="31.0" fill="#FCE4D6"/>
<rect x="755.3" y="1483.0" width="77.4" height="31.0" fill="#FF7566"/>
<rect x="597.9" y="1484.2" width="73.1" height="28.6" fill="none" stroke="#fff" stroke-opacity="0.35" stroke-width="0.9"/>
<rect x="675.4" y="1484.2" width="77.8" height="28.6" fill="none" stroke="#fff" stroke-opacity="0.35" stroke-width="0.9"/>
<rect x="757.4" y="1484.2" width="73.1" height="28.6" fill="none" stroke="#fff" stroke-opacity="0.35" stroke-width="0.9"/>
<text class="c" x="501.7" y="1507.7" font-size="21.41" textLength="40.0" lengthAdjust="spacingAndGlyphs" xml:space="preserve">TOR</text>
<rect x="595.8" y="1514.0" width="77.4" height="31.0" fill="#E6E6E6"/>
<rect x="673.2" y="1514.0" width="82.1" height="31.0" fill="#92D050"/>
<rect x="755.3" y="1514.0" width="77.4" height="31.0" fill="#FCE4D6"/>
<rect x="597.9" y="1515.2" width="73.1" height="28.6" fill="none" stroke="#fff" stroke-opacity="0.35" stroke-width="0.9"/>
<rect x="675.4" y="1515.2" width="77.8" height="28.6" fill="none" stroke="#fff" stroke-opacity="0.35" stroke-width="0.9"/>
<rect x="757.4" y="1515.2" width="73.1" height="28.6" fill="none" stroke="#fff" stroke-opacity="0.35" stroke-width="0.9"/>
<text class="c" x="497.8" y="1538.6" font-size="21.41" textLength="47.8" lengthAdjust="spacingAndGlyphs" xml:space="preserve">p38a</text>
<rect x="595.8" y="1544.9" width="77.4" height="31.0" fill="#E6E6E6"/>
<rect x="673.2" y="1544.9" width="82.1" height="31.0" fill="#E2EFDA"/>
<rect x="755.3" y="1544.9" width="77.4" height="31.0" fill="#E2EFDA"/>
<rect x="597.9" y="1546.1" width="73.1" height="28.6" fill="none" stroke="#fff" stroke-opacity="0.35" stroke-width="0.9"/>
<rect x="675.4" y="1546.1" width="77.8" height="28.6" fill="none" stroke="#fff" stroke-opacity="0.35" stroke-width="0.9"/>
<rect x="757.4" y="1546.1" width="73.1" height="28.6" fill="none" stroke="#fff" stroke-opacity="0.35" stroke-width="0.9"/>
<text class="c" x="496.7" y="1569.6" font-size="21.41" textLength="50.1" lengthAdjust="spacingAndGlyphs" xml:space="preserve">CREB</text>
<rect x="595.8" y="1575.9" width="77.4" height="31.0" fill="#E6E6E6"/>
<rect x="673.2" y="1575.9" width="82.1" height="31.0" fill="#82BC4B"/>
<rect x="755.3" y="1575.9" width="77.4" height="31.0" fill="#E2EFDA"/>
<rect x="597.9" y="1577.1" width="73.1" height="28.6" fill="none" stroke="#fff" stroke-opacity="0.35" stroke-width="0.9"/>
<rect x="675.4" y="1577.1" width="77.8" height="28.6" fill="none" stroke="#fff" stroke-opacity="0.35" stroke-width="0.9"/>
<rect x="757.4" y="1577.1" width="73.1" height="28.6" fill="none" stroke="#fff" stroke-opacity="0.35" stroke-width="0.9"/>
<text class="c" x="484.4" y="1600.6" font-size="21.41" textLength="74.6" lengthAdjust="spacingAndGlyphs" xml:space="preserve">PRAS40</text>
<rect x="595.8" y="1606.9" width="77.4" height="31.0" fill="#E6E6E6"/>
<rect x="673.2" y="1606.9" width="82.1" height="31.0" fill="#E2EFDA"/>
<rect x="755.3" y="1606.9" width="77.4" height="31.0" fill="#FCE4D6"/>
<rect x="597.9" y="1608.1" width="73.1" height="28.6" fill="none" stroke="#fff" stroke-opacity="0.35" stroke-width="0.9"/>
<rect x="675.4" y="1608.1" width="77.8" height="28.6" fill="none" stroke="#fff" stroke-opacity="0.35" stroke-width="0.9"/>
<rect x="757.4" y="1608.1" width="73.1" height="28.6" fill="none" stroke="#fff" stroke-opacity="0.35" stroke-width="0.9"/>
<text class="c" x="486.1" y="1631.5" font-size="21.41" textLength="71.2" lengthAdjust="spacingAndGlyphs" xml:space="preserve">ERK1/2</text>
<rect x="595.8" y="1637.8" width="77.4" height="31.0" fill="#E6E6E6"/>
<rect x="673.2" y="1637.8" width="82.1" height="31.0" fill="#E2EFDA"/>
<rect x="755.3" y="1637.8" width="77.4" height="31.0" fill="#FCE4D6"/>
<rect x="597.9" y="1639.0" width="73.1" height="28.6" fill="none" stroke="#fff" stroke-opacity="0.35" stroke-width="0.9"/>
<rect x="675.4" y="1639.0" width="77.8" height="28.6" fill="none" stroke="#fff" stroke-opacity="0.35" stroke-width="0.9"/>
<rect x="757.4" y="1639.0" width="73.1" height="28.6" fill="none" stroke="#fff" stroke-opacity="0.35" stroke-width="0.9"/>
<text class="c" x="480.2" y="1662.5" font-size="21.41" textLength="83.0" lengthAdjust="spacingAndGlyphs" xml:space="preserve">AMPKa1</text>
<rect x="595.8" y="1668.8" width="77.4" height="31.0" fill="#E6E6E6"/>
<rect x="673.2" y="1668.8" width="82.1" height="31.0" fill="#92D050"/>
<rect x="755.3" y="1668.8" width="77.4" height="31.0" fill="#FCE4D6"/>
<rect x="597.9" y="1670.0" width="73.1" height="28.6" fill="none" stroke="#fff" stroke-opacity="0.35" stroke-width="0.9"/>
<rect x="675.4" y="1670.0" width="77.8" height="28.6" fill="none" stroke="#fff" stroke-opacity="0.35" stroke-width="0.9"/>
<rect x="757.4" y="1670.0" width="73.1" height="28.6" fill="none" stroke="#fff" stroke-opacity="0.35" stroke-width="0.9"/>
<text class="c" x="480.2" y="1693.5" font-size="21.41" textLength="83.0" lengthAdjust="spacingAndGlyphs" xml:space="preserve">AMPKa2</text>
<rect x="595.8" y="1699.8" width="77.4" height="31.0" fill="#E6E6E6"/>
<rect x="673.2" y="1699.8" width="82.1" height="31.0" fill="#92D050"/>
<rect x="755.3" y="1699.8" width="77.4" height="31.0" fill="#FCE4D6"/>
<rect x="597.9" y="1701.0" width="73.1" height="28.6" fill="none" stroke="#fff" stroke-opacity="0.35" stroke-width="0.9"/>
<rect x="675.4" y="1701.0" width="77.8" height="28.6" fill="none" stroke="#fff" stroke-opacity="0.35" stroke-width="0.9"/>
<rect x="757.4" y="1701.0" width="73.1" height="28.6" fill="none" stroke="#fff" stroke-opacity="0.35" stroke-width="0.9"/>
<text class="c" x="479.8" y="1724.5" font-size="21.41" textLength="83.9" lengthAdjust="spacingAndGlyphs" xml:space="preserve">PDGF Rb</text>
<rect x="595.8" y="1730.8" width="77.4" height="31.0" fill="#E6E6E6"/>
<rect x="673.2" y="1730.8" width="82.1" height="31.0" fill="#F4B084"/>
<rect x="755.3" y="1730.8" width="77.4" height="31.0" fill="#FCE4D6"/>
<rect x="597.9" y="1732.0" width="73.1" height="28.6" fill="none" stroke="#fff" stroke-opacity="0.35" stroke-width="0.9"/>
<rect x="675.4" y="1732.0" width="77.8" height="28.6" fill="none" stroke="#fff" stroke-opacity="0.35" stroke-width="0.9"/>
<rect x="757.4" y="1732.0" width="73.1" height="28.6" fill="none" stroke="#fff" stroke-opacity="0.35" stroke-width="0.9"/>
<text class="c" x="476.0" y="1755.4" font-size="21.41" textLength="91.5" lengthAdjust="spacingAndGlyphs" xml:space="preserve">GSK-3a/b</text>
<rect x="595.8" y="1761.7" width="77.4" height="31.0" fill="#E6E6E6"/>
<rect x="673.2" y="1761.7" width="82.1" height="31.0" fill="#E2EFDA"/>
<rect x="755.3" y="1761.7" width="77.4" height="31.0" fill="#E2EFDA"/>
<rect x="597.9" y="1762.9" width="73.1" height="28.6" fill="none" stroke="#fff" stroke-opacity="0.35" stroke-width="0.9"/>
<rect x="675.4" y="1762.9" width="77.8" height="28.6" fill="none" stroke="#fff" stroke-opacity="0.35" stroke-width="0.9"/>
<rect x="757.4" y="1762.9" width="73.1" height="28.6" fill="none" stroke="#fff" stroke-opacity="0.35" stroke-width="0.9"/>
<text class="c" x="471.9" y="1786.4" font-size="21.41" textLength="99.5" lengthAdjust="spacingAndGlyphs" xml:space="preserve">AKT 1/2/3</text>
<rect x="595.8" y="1792.7" width="77.4" height="31.0" fill="#E6E6E6"/>
<rect x="673.2" y="1792.7" width="82.1" height="31.0" fill="#92D050"/>
<rect x="755.3" y="1792.7" width="77.4" height="31.0" fill="#E2EFDA"/>
<rect x="597.9" y="1793.9" width="73.1" height="28.6" fill="none" stroke="#fff" stroke-opacity="0.35" stroke-width="0.9"/>
<rect x="675.4" y="1793.9" width="77.8" height="28.6" fill="none" stroke="#fff" stroke-opacity="0.35" stroke-width="0.9"/>
<rect x="757.4" y="1793.9" width="73.1" height="28.6" fill="none" stroke="#fff" stroke-opacity="0.35" stroke-width="0.9"/>
<text class="c" x="474.7" y="1817.4" font-size="21.41" textLength="93.9" lengthAdjust="spacingAndGlyphs" xml:space="preserve">b-Catenin</text>
<rect x="595.8" y="1823.7" width="77.4" height="31.0" fill="#E6E6E6"/>
<rect x="673.2" y="1823.7" width="82.1" height="31.0" fill="#82BC4B"/>
<rect x="755.3" y="1823.7" width="77.4" height="31.0" fill="#47712E"/>
<rect x="597.9" y="1824.9" width="73.1" height="28.6" fill="none" stroke="#fff" stroke-opacity="0.35" stroke-width="0.9"/>
<rect x="675.4" y="1824.9" width="77.8" height="28.6" fill="none" stroke="#fff" stroke-opacity="0.35" stroke-width="0.9"/>
<rect x="757.4" y="1824.9" width="73.1" height="28.6" fill="none" stroke="#fff" stroke-opacity="0.35" stroke-width="0.9"/>
<text class="c" x="475.5" y="1848.3" font-size="21.41" textLength="92.5" lengthAdjust="spacingAndGlyphs" xml:space="preserve">RSK1/2/3</text>
<rect x="595.8" y="1854.6" width="77.4" height="31.0" fill="#E6E6E6"/>
<rect x="673.2" y="1854.6" width="82.1" height="31.0" fill="#92D050"/>
<rect x="755.3" y="1854.6" width="77.4" height="31.0" fill="#A9D08E"/>
<rect x="597.9" y="1855.8" width="73.1" height="28.6" fill="none" stroke="#fff" stroke-opacity="0.35" stroke-width="0.9"/>
<rect x="675.4" y="1855.8" width="77.8" height="28.6" fill="none" stroke="#fff" stroke-opacity="0.35" stroke-width="0.9"/>
<rect x="757.4" y="1855.8" width="73.1" height="28.6" fill="none" stroke="#fff" stroke-opacity="0.35" stroke-width="0.9"/>
<text class="c" x="496.1" y="1879.3" font-size="21.41" textLength="51.1" lengthAdjust="spacingAndGlyphs" xml:space="preserve">C-Jun</text>
<rect x="595.8" y="1885.6" width="77.4" height="31.0" fill="#E6E6E6"/>
<rect x="673.2" y="1885.6" width="82.1" height="31.0" fill="#548235"/>
<rect x="755.3" y="1885.6" width="77.4" height="31.0" fill="#82BC4B"/>
<rect x="597.9" y="1886.8" width="73.1" height="28.6" fill="none" stroke="#fff" stroke-opacity="0.35" stroke-width="0.9"/>
<rect x="675.4" y="1886.8" width="77.8" height="28.6" fill="none" stroke="#fff" stroke-opacity="0.35" stroke-width="0.9"/>
<rect x="757.4" y="1886.8" width="73.1" height="28.6" fill="none" stroke="#fff" stroke-opacity="0.35" stroke-width="0.9"/>
<text class="c" x="497.1" y="1910.3" font-size="21.41" textLength="49.1" lengthAdjust="spacingAndGlyphs" xml:space="preserve">PYK2</text>
<line x1="447.6" y1="1482.0" x2="447.6" y2="1918.1" stroke="#c4c4c4" stroke-width="1.2"/>
<line x1="447.6" y1="1483.0" x2="834.5" y2="1483.0" stroke="#000" stroke-width="2.0"/>
<line x1="447.6" y1="1514.0" x2="834.5" y2="1514.0" stroke="#000" stroke-width="1.7"/>
<line x1="447.6" y1="1544.9" x2="834.5" y2="1544.9" stroke="#000" stroke-width="1.7"/>
<line x1="447.6" y1="1575.9" x2="834.5" y2="1575.9" stroke="#000" stroke-width="1.7"/>
<line x1="447.6" y1="1606.9" x2="834.5" y2="1606.9" stroke="#000" stroke-width="1.7"/>
<line x1="447.6" y1="1637.8" x2="834.5" y2="1637.8" stroke="#000" stroke-width="1.7"/>
<line x1="447.6" y1="1668.8" x2="834.5" y2="1668.8" stroke="#000" stroke-width="1.7"/>
<line x1="447.6" y1="1699.8" x2="834.5" y2="1699.8" stroke="#000" stroke-width="1.7"/>
<line x1="447.6" y1="1730.8" x2="834.5" y2="1730.8" stroke="#000" stroke-width="1.7"/>
<line x1="447.6" y1="1761.7" x2="834.5" y2="1761.7" stroke="#000" stroke-width="1.7"/>
<line x1="447.6" y1="1792.7" x2="834.5" y2="1792.7" stroke="#000" stroke-width="1.7"/>
<line x1="447.6" y1="1823.7" x2="834.5" y2="1823.7" stroke="#000" stroke-width="1.7"/>
<line x1="447.6" y1="1854.6" x2="834.5" y2="1854.6" stroke="#000" stroke-width="1.7"/>
<line x1="447.6" y1="1885.6" x2="834.5" y2="1885.6" stroke="#000" stroke-width="1.7"/>
<line x1="447.6" y1="1916.6" x2="834.5" y2="1916.6" stroke="#000" stroke-width="4.0"/>
<line x1="595.8" y1="1480.2" x2="595.8" y2="1918.6" stroke="#000" stroke-width="3.5"/>
<line x1="673.2" y1="1480.2" x2="673.2" y2="1918.6" stroke="#000" stroke-width="3.5"/>
<line x1="755.3" y1="1480.2" x2="755.3" y2="1918.6" stroke="#000" stroke-width="3.5"/>
<line x1="832.7" y1="1480.2" x2="832.7" y2="1918.6" stroke="#000" stroke-width="3.5"/>
<text transform="translate(645.0 1476.6) rotate(-90)" font-size="22.0">Control</text>
<text transform="translate(728.0 1476.6) rotate(-90)" font-size="22.0"><tspan font-style="italic">Pg</tspan> moi 100</text>
<text transform="translate(803.6 1476.6) rotate(-90)" font-size="22.0">30 nM EMV<tspan font-size="14" dy="5.5">Pg</tspan></text>
<rect x="1018.4" y="1482.0" width="77.9" height="35.0" fill="#E6E6E6"/>
<rect x="1096.3" y="1482.0" width="81.9" height="35.0" fill="#E2EFDA"/>
<rect x="1178.2" y="1482.0" width="77.6" height="35.0" fill="#F4B084"/>
<rect x="1020.5" y="1483.2" width="73.6" height="32.6" fill="none" stroke="#fff" stroke-opacity="0.35" stroke-width="0.9"/>
<rect x="1098.5" y="1483.2" width="77.6" height="32.6" fill="none" stroke="#fff" stroke-opacity="0.35" stroke-width="0.9"/>
<rect x="1180.4" y="1483.2" width="73.3" height="32.6" fill="none" stroke="#fff" stroke-opacity="0.35" stroke-width="0.9"/>
<text class="c" x="929.6" y="1507.8" font-size="21.41" textLength="28.8" lengthAdjust="spacingAndGlyphs" xml:space="preserve">Src</text>
<rect x="1018.4" y="1517.0" width="77.9" height="33.6" fill="#E6E6E6"/>
<rect x="1096.3" y="1517.0" width="81.9" height="33.6" fill="#E2EFDA"/>
<rect x="1178.2" y="1517.0" width="77.6" height="33.6" fill="#FF7566"/>
<rect x="1020.5" y="1518.2" width="73.6" height="31.2" fill="none" stroke="#fff" stroke-opacity="0.35" stroke-width="0.9"/>
<rect x="1098.5" y="1518.2" width="77.6" height="31.2" fill="none" stroke="#fff" stroke-opacity="0.35" stroke-width="0.9"/>
<rect x="1180.4" y="1518.2" width="73.3" height="31.2" fill="none" stroke="#fff" stroke-opacity="0.35" stroke-width="0.9"/>
<text class="c" x="926.8" y="1543.3" font-size="21.41" textLength="34.4" lengthAdjust="spacingAndGlyphs" xml:space="preserve">Fyn</text>
<rect x="1018.4" y="1550.6" width="77.9" height="33.8" fill="#E6E6E6"/>
<rect x="1096.3" y="1550.6" width="81.9" height="33.8" fill="#C6E0B4"/>
<rect x="1178.2" y="1550.6" width="77.6" height="33.8" fill="#F4B084"/>
<rect x="1020.5" y="1551.8" width="73.6" height="31.4" fill="none" stroke="#fff" stroke-opacity="0.35" stroke-width="0.9"/>
<rect x="1098.5" y="1551.8" width="77.6" height="31.4" fill="none" stroke="#fff" stroke-opacity="0.35" stroke-width="0.9"/>
<rect x="1180.4" y="1551.8" width="73.3" height="31.4" fill="none" stroke="#fff" stroke-opacity="0.35" stroke-width="0.9"/>
<text class="c" x="925.3" y="1577.1" font-size="21.41" textLength="37.4" lengthAdjust="spacingAndGlyphs" xml:space="preserve">HcK</text>
<rect x="1018.4" y="1584.4" width="77.9" height="33.2" fill="#E6E6E6"/>
<rect x="1096.3" y="1584.4" width="81.9" height="33.2" fill="#A9D08E"/>
<rect x="1178.2" y="1584.4" width="77.6" height="33.2" fill="#E2EFDA"/>
<rect x="1020.5" y="1585.6" width="73.6" height="30.8" fill="none" stroke="#fff" stroke-opacity="0.35" stroke-width="0.9"/>
<rect x="1098.5" y="1585.6" width="77.6" height="30.8" fill="none" stroke="#fff" stroke-opacity="0.35" stroke-width="0.9"/>
<rect x="1180.4" y="1585.6" width="73.3" height="30.8" fill="none" stroke="#fff" stroke-opacity="0.35" stroke-width="0.9"/>
<text class="c" x="916.4" y="1610.3" font-size="21.41" textLength="55.2" lengthAdjust="spacingAndGlyphs" xml:space="preserve">EGF R</text>
<rect x="1018.4" y="1617.6" width="77.9" height="33.4" fill="#E6E6E6"/>
<rect x="1096.3" y="1617.6" width="81.9" height="33.4" fill="#A9D08E"/>
<rect x="1178.2" y="1617.6" width="77.6" height="33.4" fill="#C6E0B4"/>
<rect x="1020.5" y="1618.8" width="73.6" height="31.0" fill="none" stroke="#fff" stroke-opacity="0.35" stroke-width="0.9"/>
<rect x="1098.5" y="1618.8" width="77.6" height="31.0" fill="none" stroke="#fff" stroke-opacity="0.35" stroke-width="0.9"/>
<rect x="1180.4" y="1618.8" width="73.3" height="31.0" fill="none" stroke="#fff" stroke-opacity="0.35" stroke-width="0.9"/>
<text class="c" x="927.7" y="1643.7" font-size="21.41" textLength="32.6" lengthAdjust="spacingAndGlyphs" xml:space="preserve">Lyn</text>
<rect x="1018.4" y="1651.0" width="77.9" height="34.0" fill="#E6E6E6"/>
<rect x="1096.3" y="1651.0" width="81.9" height="34.0" fill="#C6E0B4"/>
<rect x="1178.2" y="1651.0" width="77.6" height="34.0" fill="#C6E0B4"/>
<rect x="1020.5" y="1652.2" width="73.6" height="31.6" fill="none" stroke="#fff" stroke-opacity="0.35" stroke-width="0.9"/>
<rect x="1098.5" y="1652.2" width="77.6" height="31.6" fill="none" stroke="#fff" stroke-opacity="0.35" stroke-width="0.9"/>
<rect x="1180.4" y="1652.2" width="73.3" height="31.6" fill="none" stroke="#fff" stroke-opacity="0.35" stroke-width="0.9"/>
<text class="c" x="928.3" y="1677.7" font-size="21.41" textLength="31.4" lengthAdjust="spacingAndGlyphs" xml:space="preserve">Yes</text>
<rect x="1018.4" y="1685.0" width="77.9" height="33.2" fill="#E6E6E6"/>
<rect x="1096.3" y="1685.0" width="81.9" height="33.2" fill="#A9D08E"/>
<rect x="1178.2" y="1685.0" width="77.6" height="33.2" fill="#C6E0B4"/>
<rect x="1020.5" y="1686.2" width="73.6" height="30.8" fill="none" stroke="#fff" stroke-opacity="0.35" stroke-width="0.9"/>
<rect x="1098.5" y="1686.2" width="77.6" height="30.8" fill="none" stroke="#fff" stroke-opacity="0.35" stroke-width="0.9"/>
<rect x="1180.4" y="1686.2" width="73.3" height="30.8" fill="none" stroke="#fff" stroke-opacity="0.35" stroke-width="0.9"/>
<text class="c" x="916.8" y="1710.9" font-size="21.41" textLength="54.4" lengthAdjust="spacingAndGlyphs" xml:space="preserve">Chk-2</text>
<rect x="1018.4" y="1718.2" width="77.9" height="33.6" fill="#E6E6E6"/>
<rect x="1096.3" y="1718.2" width="81.9" height="33.6" fill="#92D050"/>
<rect x="1178.2" y="1718.2" width="77.6" height="33.6" fill="#FCE4D6"/>
<rect x="1020.5" y="1719.4" width="73.6" height="31.2" fill="none" stroke="#fff" stroke-opacity="0.35" stroke-width="0.9"/>
<rect x="1098.5" y="1719.4" width="77.6" height="31.2" fill="none" stroke="#fff" stroke-opacity="0.35" stroke-width="0.9"/>
<rect x="1180.4" y="1719.4" width="73.3" height="31.2" fill="none" stroke="#fff" stroke-opacity="0.35" stroke-width="0.9"/>
<text class="c" x="927.8" y="1744.5" font-size="21.41" textLength="32.5" lengthAdjust="spacingAndGlyphs" xml:space="preserve">LcK</text>
<rect x="1018.4" y="1751.8" width="77.9" height="33.7" fill="#E6E6E6"/>
<rect x="1096.3" y="1751.8" width="81.9" height="33.7" fill="#82BC4B"/>
<rect x="1178.2" y="1751.8" width="77.6" height="33.7" fill="#FCE4D6"/>
<rect x="1020.5" y="1753.0" width="73.6" height="31.3" fill="none" stroke="#fff" stroke-opacity="0.35" stroke-width="0.9"/>
<rect x="1098.5" y="1753.0" width="77.6" height="31.3" fill="none" stroke="#fff" stroke-opacity="0.35" stroke-width="0.9"/>
<rect x="1180.4" y="1753.0" width="73.3" height="31.3" fill="none" stroke="#fff" stroke-opacity="0.35" stroke-width="0.9"/>
<text class="c" x="928.9" y="1778.2" font-size="21.41" textLength="30.2" lengthAdjust="spacingAndGlyphs" xml:space="preserve">Fgr</text>
<rect x="1018.4" y="1785.5" width="77.9" height="34.1" fill="#E6E6E6"/>
<rect x="1096.3" y="1785.5" width="81.9" height="34.1" fill="#C6E0B4"/>
<rect x="1178.2" y="1785.5" width="77.6" height="34.1" fill="#E2EFDA"/>
<rect x="1020.5" y="1786.7" width="73.6" height="31.7" fill="none" stroke="#fff" stroke-opacity="0.35" stroke-width="0.9"/>
<rect x="1098.5" y="1786.7" width="77.6" height="31.7" fill="none" stroke="#fff" stroke-opacity="0.35" stroke-width="0.9"/>
<rect x="1180.4" y="1786.7" width="73.3" height="31.7" fill="none" stroke="#fff" stroke-opacity="0.35" stroke-width="0.9"/>
<text class="c" x="925.8" y="1812.3" font-size="21.41" textLength="36.4" lengthAdjust="spacingAndGlyphs" xml:space="preserve">FAK</text>
<line x1="869.6" y1="1481.0" x2="869.6" y2="1821.1" stroke="#c4c4c4" stroke-width="1.2"/>
<line x1="869.6" y1="1482.0" x2="1257.5" y2="1482.0" stroke="#000" stroke-width="2.0"/>
<line x1="869.6" y1="1517.0" x2="1257.5" y2="1517.0" stroke="#000" stroke-width="1.7"/>
<line x1="869.6" y1="1550.6" x2="1257.5" y2="1550.6" stroke="#000" stroke-width="1.7"/>
<line x1="869.6" y1="1584.4" x2="1257.5" y2="1584.4" stroke="#000" stroke-width="1.7"/>
<line x1="869.6" y1="1617.6" x2="1257.5" y2="1617.6" stroke="#000" stroke-width="1.7"/>
<line x1="869.6" y1="1651.0" x2="1257.5" y2="1651.0" stroke="#000" stroke-width="1.7"/>
<line x1="869.6" y1="1685.0" x2="1257.5" y2="1685.0" stroke="#000" stroke-width="1.7"/>
<line x1="869.6" y1="1718.2" x2="1257.5" y2="1718.2" stroke="#000" stroke-width="1.7"/>
<line x1="869.6" y1="1751.8" x2="1257.5" y2="1751.8" stroke="#000" stroke-width="1.7"/>
<line x1="869.6" y1="1785.5" x2="1257.5" y2="1785.5" stroke="#000" stroke-width="1.7"/>
<line x1="869.6" y1="1819.6" x2="1257.5" y2="1819.6" stroke="#000" stroke-width="4.0"/>
<line x1="1018.4" y1="1479.6" x2="1018.4" y2="1821.6" stroke="#000" stroke-width="3.5"/>
<line x1="1096.3" y1="1479.6" x2="1096.3" y2="1821.6" stroke="#000" stroke-width="3.5"/>
<line x1="1178.2" y1="1479.6" x2="1178.2" y2="1821.6" stroke="#000" stroke-width="3.5"/>
<line x1="1255.8" y1="1479.6" x2="1255.8" y2="1821.6" stroke="#000" stroke-width="3.5"/>
<text transform="translate(1068.0 1476.6) rotate(-90)" font-size="22.0">Control</text>
<text transform="translate(1150.6 1476.6) rotate(-90)" font-size="22.0"><tspan font-style="italic">Pg</tspan> moi 100</text>
<text transform="translate(1227.4 1476.6) rotate(-90)" font-size="22.0">30 nM EMV<tspan font-size="14" dy="5.5">Pg</tspan></text>
<rect x="1421.0" y="1481.6" width="73.0" height="35.3" fill="#E6E6E6"/>
<rect x="1494.0" y="1481.6" width="76.5" height="35.3" fill="#C6E0B4"/>
<rect x="1570.5" y="1481.6" width="72.8" height="35.3" fill="#FCE4D6"/>
<rect x="1423.2" y="1482.8" width="68.7" height="32.9" fill="none" stroke="#fff" stroke-opacity="0.35" stroke-width="0.9"/>
<rect x="1496.2" y="1482.8" width="72.2" height="32.9" fill="none" stroke="#fff" stroke-opacity="0.35" stroke-width="0.9"/>
<rect x="1572.7" y="1482.8" width="68.5" height="32.9" fill="none" stroke="#fff" stroke-opacity="0.35" stroke-width="0.9"/>
<text class="c" x="1315.6" y="1509.3" font-size="21.41" textLength="72.3" lengthAdjust="spacingAndGlyphs" xml:space="preserve">MSK1/2</text>
<rect x="1421.0" y="1516.9" width="73.0" height="33.8" fill="#E6E6E6"/>
<rect x="1494.0" y="1516.9" width="76.5" height="33.8" fill="#A9D08E"/>
<rect x="1570.5" y="1516.9" width="72.8" height="33.8" fill="#FCE4D6"/>
<rect x="1423.2" y="1518.1" width="68.7" height="31.4" fill="none" stroke="#fff" stroke-opacity="0.35" stroke-width="0.9"/>
<rect x="1496.2" y="1518.1" width="72.2" height="31.4" fill="none" stroke="#fff" stroke-opacity="0.35" stroke-width="0.9"/>
<rect x="1572.7" y="1518.1" width="68.5" height="31.4" fill="none" stroke="#fff" stroke-opacity="0.35" stroke-width="0.9"/>
<text class="c" x="1323.6" y="1543.1" font-size="21.41" textLength="56.4" lengthAdjust="spacingAndGlyphs" xml:space="preserve">STAT2</text>
<rect x="1421.0" y="1550.7" width="73.0" height="34.6" fill="#E6E6E6"/>
<rect x="1494.0" y="1550.7" width="76.5" height="34.6" fill="#92D050"/>
<rect x="1570.5" y="1550.7" width="72.8" height="34.6" fill="#FCE4D6"/>
<rect x="1423.2" y="1551.9" width="68.7" height="32.2" fill="none" stroke="#fff" stroke-opacity="0.35" stroke-width="0.9"/>
<rect x="1496.2" y="1551.9" width="72.2" height="32.2" fill="none" stroke="#fff" stroke-opacity="0.35" stroke-width="0.9"/>
<rect x="1572.7" y="1551.9" width="68.5" height="32.2" fill="none" stroke="#fff" stroke-opacity="0.35" stroke-width="0.9"/>
<text class="c" x="1323.6" y="1577.7" font-size="21.41" textLength="56.4" lengthAdjust="spacingAndGlyphs" xml:space="preserve">STAT6</text>
<rect x="1421.0" y="1585.3" width="73.0" height="34.7" fill="#E6E6E6"/>
<rect x="1494.0" y="1585.3" width="76.5" height="34.7" fill="#629A3F"/>
<rect x="1570.5" y="1585.3" width="72.8" height="34.7" fill="#E2EFDA"/>
<rect x="1423.2" y="1586.5" width="68.7" height="32.3" fill="none" stroke="#fff" stroke-opacity="0.35" stroke-width="0.9"/>
<rect x="1496.2" y="1586.5" width="72.2" height="32.3" fill="none" stroke="#fff" stroke-opacity="0.35" stroke-width="0.9"/>
<rect x="1572.7" y="1586.5" width="68.5" height="32.3" fill="none" stroke="#fff" stroke-opacity="0.35" stroke-width="0.9"/>
<text class="c" x="1317.8" y="1612.4" font-size="21.41" textLength="67.9" lengthAdjust="spacingAndGlyphs" xml:space="preserve">STAT5a</text>
<rect x="1421.0" y="1620.0" width="73.0" height="34.2" fill="#E6E6E6"/>
<rect x="1494.0" y="1620.0" width="76.5" height="34.2" fill="#92D050"/>
<rect x="1570.5" y="1620.0" width="72.8" height="34.2" fill="#E2EFDA"/>
<rect x="1423.2" y="1621.2" width="68.7" height="31.8" fill="none" stroke="#fff" stroke-opacity="0.35" stroke-width="0.9"/>
<rect x="1496.2" y="1621.2" width="72.2" height="31.8" fill="none" stroke="#fff" stroke-opacity="0.35" stroke-width="0.9"/>
<rect x="1572.7" y="1621.2" width="68.5" height="31.8" fill="none" stroke="#fff" stroke-opacity="0.35" stroke-width="0.9"/>
<text class="c" x="1317.3" y="1646.6" font-size="21.41" textLength="68.9" lengthAdjust="spacingAndGlyphs" xml:space="preserve">STAT5b</text>
<rect x="1421.0" y="1654.2" width="73.0" height="34.8" fill="#E6E6E6"/>
<rect x="1494.0" y="1654.2" width="76.5" height="34.8" fill="#70AD47"/>
<rect x="1570.5" y="1654.2" width="72.8" height="34.8" fill="#C6E0B4"/>
<rect x="1423.2" y="1655.4" width="68.7" height="32.4" fill="none" stroke="#fff" stroke-opacity="0.35" stroke-width="0.9"/>
<rect x="1496.2" y="1655.4" width="72.2" height="32.4" fill="none" stroke="#fff" stroke-opacity="0.35" stroke-width="0.9"/>
<rect x="1572.7" y="1655.4" width="68.5" height="32.4" fill="none" stroke="#fff" stroke-opacity="0.35" stroke-width="0.9"/>
<text class="c" x="1306.5" y="1681.4" font-size="21.41" textLength="90.5" lengthAdjust="spacingAndGlyphs" xml:space="preserve">STAT5a/b</text>
<rect x="1421.0" y="1689.0" width="73.0" height="34.2" fill="#E6E6E6"/>
<rect x="1494.0" y="1689.0" width="76.5" height="34.2" fill="#70AD47"/>
<rect x="1570.5" y="1689.0" width="72.8" height="34.2" fill="#548235"/>
<rect x="1423.2" y="1690.2" width="68.7" height="31.8" fill="none" stroke="#fff" stroke-opacity="0.35" stroke-width="0.9"/>
<rect x="1496.2" y="1690.2" width="72.2" height="31.8" fill="none" stroke="#fff" stroke-opacity="0.35" stroke-width="0.9"/>
<rect x="1572.7" y="1690.2" width="68.5" height="31.8" fill="none" stroke="#fff" stroke-opacity="0.35" stroke-width="0.9"/>
<text class="c" x="1323.6" y="1715.6" font-size="21.41" textLength="56.4" lengthAdjust="spacingAndGlyphs" xml:space="preserve">STAT3</text>
<rect x="1421.0" y="1723.2" width="73.0" height="35.4" fill="#E6E6E6"/>
<rect x="1494.0" y="1723.2" width="76.5" height="35.4" fill="#E2EFDA"/>
<rect x="1570.5" y="1723.2" width="72.8" height="35.4" fill="#70AD47"/>
<rect x="1423.2" y="1724.4" width="68.7" height="33.0" fill="none" stroke="#fff" stroke-opacity="0.35" stroke-width="0.9"/>
<rect x="1496.2" y="1724.4" width="72.2" height="33.0" fill="none" stroke="#fff" stroke-opacity="0.35" stroke-width="0.9"/>
<rect x="1572.7" y="1724.4" width="68.5" height="33.0" fill="none" stroke="#fff" stroke-opacity="0.35" stroke-width="0.9"/>
<text class="c" x="1323.6" y="1751.0" font-size="21.41" textLength="56.4" lengthAdjust="spacingAndGlyphs" xml:space="preserve">STAT3</text>
<line x1="1282.5" y1="1480.6" x2="1282.5" y2="1760.1" stroke="#c4c4c4" stroke-width="1.2"/>
<line x1="1282.5" y1="1481.6" x2="1645.0" y2="1481.6" stroke="#000" stroke-width="2.0"/>
<line x1="1282.5" y1="1516.9" x2="1645.0" y2="1516.9" stroke="#000" stroke-width="1.7"/>
<line x1="1282.5" y1="1550.7" x2="1645.0" y2="1550.7" stroke="#000" stroke-width="1.7"/>
<line x1="1282.5" y1="1585.3" x2="1645.0" y2="1585.3" stroke="#000" stroke-width="1.7"/>
<line x1="1282.5" y1="1620.0" x2="1645.0" y2="1620.0" stroke="#000" stroke-width="1.7"/>
<line x1="1282.5" y1="1654.2" x2="1645.0" y2="1654.2" stroke="#000" stroke-width="1.7"/>
<line x1="1282.5" y1="1689.0" x2="1645.0" y2="1689.0" stroke="#000" stroke-width="1.7"/>
<line x1="1282.5" y1="1723.2" x2="1645.0" y2="1723.2" stroke="#000" stroke-width="1.7"/>
<line x1="1282.5" y1="1758.6" x2="1645.0" y2="1758.6" stroke="#000" stroke-width="4.0"/>
<line x1="1421.0" y1="1480.0" x2="1421.0" y2="1760.6" stroke="#000" stroke-width="3.5"/>
<line x1="1494.0" y1="1480.0" x2="1494.0" y2="1760.6" stroke="#000" stroke-width="3.5"/>
<line x1="1570.5" y1="1480.0" x2="1570.5" y2="1760.6" stroke="#000" stroke-width="3.5"/>
<line x1="1643.3" y1="1480.0" x2="1643.3" y2="1760.6" stroke="#000" stroke-width="3.5"/>
<text transform="translate(1459.2 1476.9) rotate(-90)" font-size="22.0">Control</text>
<text transform="translate(1542.4 1476.9) rotate(-90)" font-size="22.0"><tspan font-style="italic">Pg</tspan> moi 100</text>
<text transform="translate(1619.9 1476.9) rotate(-90)" font-size="22.0">30 nM EMV<tspan font-size="14" dy="5.5">Pg</tspan></text>
<rect x="1146.6" y="1890.0" width="55.3" height="27.0" fill="#C00000"/>
<rect x="1146.6" y="1942.0" width="55.3" height="26.0" fill="#A9D08E"/>
<text class="c" x="1163.6" y="1882.0" font-size="11.07" textLength="21.4" lengthAdjust="spacingAndGlyphs" xml:space="preserve">&lt;0,5</text>
<text class="c" x="1157.0" y="1933.6" font-size="11.07" textLength="34.5" lengthAdjust="spacingAndGlyphs" xml:space="preserve">1,2-1,3</text>
<rect x="1201.9" y="1890.0" width="55.4" height="27.0" fill="#E00012"/>
<rect x="1201.9" y="1942.0" width="55.4" height="26.0" fill="#92D050"/>
<text class="c" x="1212.4" y="1882.0" font-size="11.07" textLength="34.5" lengthAdjust="spacingAndGlyphs" xml:space="preserve">0,5-0,6</text>
<text class="c" x="1212.4" y="1933.6" font-size="11.07" textLength="34.5" lengthAdjust="spacingAndGlyphs" xml:space="preserve">1,3-1,4</text>
<rect x="1257.3" y="1890.0" width="55.3" height="27.0" fill="#FF0000"/>
<rect x="1257.3" y="1942.0" width="55.3" height="26.0" fill="#82BC4B"/>
<text class="c" x="1267.7" y="1882.0" font-size="11.07" textLength="34.5" lengthAdjust="spacingAndGlyphs" xml:space="preserve">0,6-0,7</text>
<text class="c" x="1267.7" y="1933.6" font-size="11.07" textLength="34.5" lengthAdjust="spacingAndGlyphs" xml:space="preserve">1,4-1,5</text>
<rect x="1312.6" y="1890.0" width="55.4" height="27.0" fill="#FF7566"/>
<rect x="1312.6" y="1942.0" width="55.4" height="26.0" fill="#70AD47"/>
<text class="c" x="1323.1" y="1882.0" font-size="11.07" textLength="34.5" lengthAdjust="spacingAndGlyphs" xml:space="preserve">0,7-0,8</text>
<text class="c" x="1323.1" y="1933.6" font-size="11.07" textLength="34.5" lengthAdjust="spacingAndGlyphs" xml:space="preserve">1,5-1,6</text>
<rect x="1368.0" y="1890.0" width="55.3" height="27.0" fill="#F4B084"/>
<rect x="1368.0" y="1942.0" width="55.3" height="26.0" fill="#629A3F"/>
<text class="c" x="1378.4" y="1882.0" font-size="11.07" textLength="34.5" lengthAdjust="spacingAndGlyphs" xml:space="preserve">0,8-0,9</text>
<text class="c" x="1378.4" y="1933.6" font-size="11.07" textLength="34.5" lengthAdjust="spacingAndGlyphs" xml:space="preserve">1,6-1,7</text>
<rect x="1423.3" y="1890.0" width="55.3" height="27.0" fill="#FCE4D6"/>
<rect x="1423.3" y="1942.0" width="55.3" height="26.0" fill="#548235"/>
<text class="c" x="1438.4" y="1882.0" font-size="11.07" textLength="25.2" lengthAdjust="spacingAndGlyphs" xml:space="preserve">0,9-1</text>
<text class="c" x="1433.8" y="1933.6" font-size="11.07" textLength="34.5" lengthAdjust="spacingAndGlyphs" xml:space="preserve">1,7-1,8</text>
<rect x="1478.7" y="1890.0" width="55.4" height="27.0" fill="#E6E6E6"/>
<rect x="1478.7" y="1942.0" width="55.4" height="26.0" fill="#47712E"/>
<text class="c" x="1503.3" y="1882.0" font-size="11.07" textLength="6.1" lengthAdjust="spacingAndGlyphs" xml:space="preserve">1</text>
<text class="c" x="1489.1" y="1933.6" font-size="11.07" textLength="34.5" lengthAdjust="spacingAndGlyphs" xml:space="preserve">1,8-1,9</text>
<rect x="1534.0" y="1890.0" width="55.3" height="27.0" fill="#E2EFDA"/>
<rect x="1534.0" y="1942.0" width="55.3" height="26.0" fill="#3A5C27"/>
<text class="c" x="1549.1" y="1882.0" font-size="11.07" textLength="25.2" lengthAdjust="spacingAndGlyphs" xml:space="preserve">1-1,1</text>
<text class="c" x="1549.1" y="1933.6" font-size="11.07" textLength="25.2" lengthAdjust="spacingAndGlyphs" xml:space="preserve">1,9-2</text>
<rect x="1589.4" y="1890.0" width="53.8" height="27.0" fill="#C6E0B4"/>
<rect x="1589.4" y="1942.0" width="53.8" height="26.0" fill="#2F4B1F"/>
<text class="c" x="1599.1" y="1882.0" font-size="11.07" textLength="34.5" lengthAdjust="spacingAndGlyphs" xml:space="preserve">1,1-1,2</text>
<text class="c" x="1610.2" y="1933.6" font-size="11.07" textLength="12.2" lengthAdjust="spacingAndGlyphs" xml:space="preserve">&gt;2</text>
<line x1="1044.0" y1="1840.5" x2="1643.2" y2="1840.5" stroke="#c9c9c9" stroke-width="1.2"/>
<line x1="1044.0" y1="1840.5" x2="1044.0" y2="1969.0" stroke="#c4c4c4" stroke-width="1.2"/>
<line x1="1044.0" y1="1865.0" x2="1644.2" y2="1865.0" stroke="#000" stroke-width="1.5"/>
<line x1="1044.0" y1="1890.0" x2="1644.2" y2="1890.0" stroke="#000" stroke-width="1.5"/>
<line x1="1044.0" y1="1917.0" x2="1644.2" y2="1917.0" stroke="#000" stroke-width="1.5"/>
<line x1="1044.0" y1="1942.0" x2="1644.2" y2="1942.0" stroke="#000" stroke-width="1.5"/>
<line x1="1044.0" y1="1968.0" x2="1645.0" y2="1968.0" stroke="#000" stroke-width="3.0"/>
<line x1="1146.6" y1="1865.0" x2="1146.6" y2="1968.0" stroke="#000" stroke-width="1.5"/>
<line x1="1201.9" y1="1865.0" x2="1201.9" y2="1968.0" stroke="#000" stroke-width="1.5"/>
<line x1="1257.3" y1="1865.0" x2="1257.3" y2="1968.0" stroke="#000" stroke-width="1.5"/>
<line x1="1312.6" y1="1865.0" x2="1312.6" y2="1968.0" stroke="#000" stroke-width="1.5"/>
<line x1="1368.0" y1="1865.0" x2="1368.0" y2="1968.0" stroke="#000" stroke-width="1.5"/>
<line x1="1423.3" y1="1865.0" x2="1423.3" y2="1968.0" stroke="#000" stroke-width="1.5"/>
<line x1="1478.7" y1="1865.0" x2="1478.7" y2="1968.0" stroke="#000" stroke-width="1.5"/>
<line x1="1534.0" y1="1865.0" x2="1534.0" y2="1968.0" stroke="#000" stroke-width="1.5"/>
<line x1="1589.4" y1="1865.0" x2="1589.4" y2="1968.0" stroke="#000" stroke-width="1.5"/>
<line x1="1643.2" y1="1840.5" x2="1643.2" y2="1969.5" stroke="#000" stroke-width="3.4"/>
<text class="c" x="1175.6" y="1857.6" font-size="17.20" textLength="338.2" lengthAdjust="spacingAndGlyphs" xml:space="preserve">Normalized Fold Change protein expression</text>
<text class="c" x="1071.2" y="1884.0" font-size="17.20" textLength="48.1" lengthAdjust="spacingAndGlyphs" xml:space="preserve">Range</text>
<text class="c" x="1075.5" y="1909.4" font-size="17.20" textLength="39.6" lengthAdjust="spacingAndGlyphs" xml:space="preserve">Color</text>
<text class="c" x="1071.2" y="1937.0" font-size="17.20" textLength="48.1" lengthAdjust="spacingAndGlyphs" xml:space="preserve">Range</text>
<text class="c" x="1075.5" y="1961.6" font-size="17.20" textLength="39.6" lengthAdjust="spacingAndGlyphs" xml:space="preserve">Color</text>
</svg>
</body></html>
